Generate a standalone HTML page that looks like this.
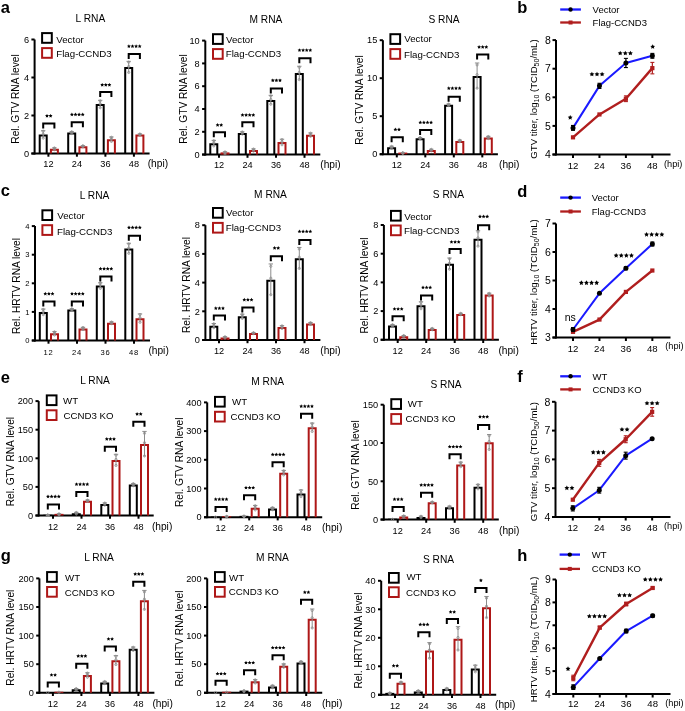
<!DOCTYPE html>
<html><head><meta charset="utf-8"><style>
html,body{margin:0;padding:0;background:#fff;}
svg{display:block;font-family:"Liberation Sans", sans-serif;will-change:transform;}
</style></head><body>
<svg width="685" height="711" viewBox="0 0 685 711">
<rect width="685" height="711" fill="#fff"/>
<text x="0.7" y="12.7" font-size="16.5" text-anchor="start" font-weight="bold">a</text>
<text x="517.3" y="12.9" font-size="16.5" text-anchor="start" font-weight="bold">b</text>
<text x="0.7" y="196.4" font-size="16.5" text-anchor="start" font-weight="bold">c</text>
<text x="517.3" y="196.7" font-size="16.5" text-anchor="start" font-weight="bold">d</text>
<text x="0.7" y="382.9" font-size="16.5" text-anchor="start" font-weight="bold">e</text>
<text x="517.3" y="382.2" font-size="16.5" text-anchor="start" font-weight="bold">f</text>
<text x="0.7" y="561" font-size="16.5" text-anchor="start" font-weight="bold">g</text>
<text x="517.3" y="561.2" font-size="16.5" text-anchor="start" font-weight="bold">h</text>
<line x1="34.6" y1="39.5" x2="34.6" y2="154.5" stroke="#000" stroke-width="2" stroke-linecap="butt"/>
<line x1="31.4" y1="153.5" x2="149.6" y2="153.5" stroke="#000" stroke-width="2" stroke-linecap="butt"/>
<line x1="31.4" y1="153.5" x2="34.6" y2="153.5" stroke="#000" stroke-width="2" stroke-linecap="butt"/>
<text x="29" y="156.77" font-size="9.2" text-anchor="end">0</text>
<line x1="31.4" y1="115.5" x2="34.6" y2="115.5" stroke="#000" stroke-width="2" stroke-linecap="butt"/>
<text x="29" y="118.77" font-size="9.2" text-anchor="end">2</text>
<line x1="31.4" y1="77.5" x2="34.6" y2="77.5" stroke="#000" stroke-width="2" stroke-linecap="butt"/>
<text x="29" y="80.77" font-size="9.2" text-anchor="end">4</text>
<line x1="31.4" y1="39.5" x2="34.6" y2="39.5" stroke="#000" stroke-width="2" stroke-linecap="butt"/>
<text x="29" y="42.77" font-size="9.2" text-anchor="end">6</text>
<line x1="48.4" y1="153.5" x2="48.4" y2="156.7" stroke="#000" stroke-width="2" stroke-linecap="butt"/>
<text x="48.4" y="167" font-size="9.2" text-anchor="middle">12</text>
<path d="M39.7 153.5V135.5H46.7V153.5" fill="none" stroke="#000" stroke-width="2"/>
<line x1="43.2" y1="130.7" x2="43.2" y2="138.3" stroke="#8c8c8c" stroke-width="1" stroke-linecap="butt"/>
<line x1="41" y1="130.7" x2="45.4" y2="130.7" stroke="#8c8c8c" stroke-width="1" stroke-linecap="butt"/>
<circle cx="43.2" cy="131.27" r="1.1" fill="none" stroke="#8c8c8c" stroke-width="0.8"/>
<circle cx="43.2" cy="134.12" r="1.1" fill="none" stroke="#8c8c8c" stroke-width="0.8"/>
<circle cx="43.2" cy="138.11" r="1.1" fill="none" stroke="#8c8c8c" stroke-width="0.8"/>
<path d="M50.9 153.5V149.75H57.9V153.5" fill="none" stroke="#ae1717" stroke-width="2"/>
<line x1="54.4" y1="147.8" x2="54.4" y2="149.7" stroke="#8c8c8c" stroke-width="1" stroke-linecap="butt"/>
<line x1="52.2" y1="147.8" x2="56.6" y2="147.8" stroke="#8c8c8c" stroke-width="1" stroke-linecap="butt"/>
<circle cx="54.4" cy="147.94" r="1.1" fill="none" stroke="#8c8c8c" stroke-width="0.8"/>
<circle cx="54.4" cy="148.66" r="1.1" fill="none" stroke="#8c8c8c" stroke-width="0.8"/>
<circle cx="54.4" cy="149.65" r="1.1" fill="none" stroke="#8c8c8c" stroke-width="0.8"/>
<path d="M43.2 128.5V123.5H54.4V128.5" fill="none" stroke="#000" stroke-width="2"/>
<path d="M47,113.9 L47.59,115.09 L48.9,115.28 L47.95,116.21 L48.18,117.52 L47,116.9 L45.82,117.52 L46.05,116.21 L45.1,115.28 L46.41,115.09Z M50.6,113.9 L51.19,115.09 L52.5,115.28 L51.55,116.21 L51.78,117.52 L50.6,116.9 L49.42,117.52 L49.65,116.21 L48.7,115.28 L50.01,115.09Z" fill="#000"/>
<line x1="76.9" y1="153.5" x2="76.9" y2="156.7" stroke="#000" stroke-width="2" stroke-linecap="butt"/>
<text x="76.9" y="167" font-size="9.2" text-anchor="middle">24</text>
<path d="M68.2 153.5V133.6H75.2V153.5" fill="none" stroke="#000" stroke-width="2"/>
<line x1="71.7" y1="131.65" x2="71.7" y2="133.55" stroke="#8c8c8c" stroke-width="1" stroke-linecap="butt"/>
<line x1="69.5" y1="131.65" x2="73.9" y2="131.65" stroke="#8c8c8c" stroke-width="1" stroke-linecap="butt"/>
<circle cx="71.7" cy="131.79" r="1.1" fill="none" stroke="#8c8c8c" stroke-width="0.8"/>
<circle cx="71.7" cy="132.5" r="1.1" fill="none" stroke="#8c8c8c" stroke-width="0.8"/>
<circle cx="71.7" cy="133.5" r="1.1" fill="none" stroke="#8c8c8c" stroke-width="0.8"/>
<path d="M79.4 153.5V147.28H86.4V153.5" fill="none" stroke="#ae1717" stroke-width="2"/>
<line x1="82.9" y1="145.71" x2="82.9" y2="146.85" stroke="#8c8c8c" stroke-width="1" stroke-linecap="butt"/>
<line x1="80.7" y1="145.71" x2="85.1" y2="145.71" stroke="#8c8c8c" stroke-width="1" stroke-linecap="butt"/>
<circle cx="82.9" cy="145.8" r="1.1" fill="none" stroke="#8c8c8c" stroke-width="0.8"/>
<circle cx="82.9" cy="146.22" r="1.1" fill="none" stroke="#8c8c8c" stroke-width="0.8"/>
<circle cx="82.9" cy="146.82" r="1.1" fill="none" stroke="#8c8c8c" stroke-width="0.8"/>
<path d="M71.7 127.2V122.2H82.9V127.2" fill="none" stroke="#000" stroke-width="2"/>
<path d="M71.9,112.6 L72.49,113.79 L73.8,113.98 L72.85,114.91 L73.08,116.22 L71.9,115.6 L70.72,116.22 L70.95,114.91 L70,113.98 L71.31,113.79Z M75.5,112.6 L76.09,113.79 L77.4,113.98 L76.45,114.91 L76.68,116.22 L75.5,115.6 L74.32,116.22 L74.55,114.91 L73.6,113.98 L74.91,113.79Z M79.1,112.6 L79.69,113.79 L81,113.98 L80.05,114.91 L80.28,116.22 L79.1,115.6 L77.92,116.22 L78.15,114.91 L77.2,113.98 L78.51,113.79Z M82.7,112.6 L83.29,113.79 L84.6,113.98 L83.65,114.91 L83.88,116.22 L82.7,115.6 L81.52,116.22 L81.75,114.91 L80.8,113.98 L82.11,113.79Z" fill="#000"/>
<line x1="105.4" y1="153.5" x2="105.4" y2="156.7" stroke="#000" stroke-width="2" stroke-linecap="butt"/>
<text x="105.4" y="167" font-size="9.2" text-anchor="middle">36</text>
<path d="M96.7 153.5V105.1H103.7V153.5" fill="none" stroke="#000" stroke-width="2"/>
<line x1="100.2" y1="100.3" x2="100.2" y2="107.9" stroke="#8c8c8c" stroke-width="1" stroke-linecap="butt"/>
<line x1="98" y1="100.3" x2="102.4" y2="100.3" stroke="#8c8c8c" stroke-width="1" stroke-linecap="butt"/>
<circle cx="100.2" cy="100.87" r="1.1" fill="none" stroke="#8c8c8c" stroke-width="0.8"/>
<circle cx="100.2" cy="103.72" r="1.1" fill="none" stroke="#8c8c8c" stroke-width="0.8"/>
<circle cx="100.2" cy="107.71" r="1.1" fill="none" stroke="#8c8c8c" stroke-width="0.8"/>
<path d="M107.9 153.5V140.25H114.9V153.5" fill="none" stroke="#ae1717" stroke-width="2"/>
<line x1="111.4" y1="136.97" x2="111.4" y2="141.53" stroke="#8c8c8c" stroke-width="1" stroke-linecap="butt"/>
<line x1="109.2" y1="136.97" x2="113.6" y2="136.97" stroke="#8c8c8c" stroke-width="1" stroke-linecap="butt"/>
<circle cx="111.4" cy="137.31" r="1.1" fill="none" stroke="#8c8c8c" stroke-width="0.8"/>
<circle cx="111.4" cy="139.02" r="1.1" fill="none" stroke="#8c8c8c" stroke-width="0.8"/>
<circle cx="111.4" cy="141.42" r="1.1" fill="none" stroke="#8c8c8c" stroke-width="0.8"/>
<path d="M100.2 97V92H111.4V97" fill="none" stroke="#000" stroke-width="2"/>
<path d="M102.2,82.9 L102.79,84.09 L104.1,84.28 L103.15,85.21 L103.38,86.52 L102.2,85.9 L101.02,86.52 L101.25,85.21 L100.3,84.28 L101.61,84.09Z M105.8,82.9 L106.39,84.09 L107.7,84.28 L106.75,85.21 L106.98,86.52 L105.8,85.9 L104.62,86.52 L104.85,85.21 L103.9,84.28 L105.21,84.09Z M109.4,82.9 L109.99,84.09 L111.3,84.28 L110.35,85.21 L110.58,86.52 L109.4,85.9 L108.22,86.52 L108.45,85.21 L107.5,84.28 L108.81,84.09Z" fill="#000"/>
<line x1="133.9" y1="153.5" x2="133.9" y2="156.7" stroke="#000" stroke-width="2" stroke-linecap="butt"/>
<text x="133.9" y="167" font-size="9.2" text-anchor="middle">48</text>
<path d="M125.2 153.5V68.05H132.2V153.5" fill="none" stroke="#000" stroke-width="2"/>
<line x1="128.7" y1="61.35" x2="128.7" y2="72.75" stroke="#8c8c8c" stroke-width="1" stroke-linecap="butt"/>
<line x1="126.5" y1="61.35" x2="130.9" y2="61.35" stroke="#8c8c8c" stroke-width="1" stroke-linecap="butt"/>
<circle cx="128.7" cy="62.21" r="1.1" fill="none" stroke="#8c8c8c" stroke-width="0.8"/>
<circle cx="128.7" cy="66.48" r="1.1" fill="none" stroke="#8c8c8c" stroke-width="0.8"/>
<circle cx="128.7" cy="72.47" r="1.1" fill="none" stroke="#8c8c8c" stroke-width="0.8"/>
<path d="M136.4 153.5V135.5H143.4V153.5" fill="none" stroke="#ae1717" stroke-width="2"/>
<line x1="139.9" y1="133.93" x2="139.9" y2="135.07" stroke="#8c8c8c" stroke-width="1" stroke-linecap="butt"/>
<line x1="137.7" y1="133.93" x2="142.1" y2="133.93" stroke="#8c8c8c" stroke-width="1" stroke-linecap="butt"/>
<circle cx="139.9" cy="134.02" r="1.1" fill="none" stroke="#8c8c8c" stroke-width="0.8"/>
<circle cx="139.9" cy="134.44" r="1.1" fill="none" stroke="#8c8c8c" stroke-width="0.8"/>
<circle cx="139.9" cy="135.04" r="1.1" fill="none" stroke="#8c8c8c" stroke-width="0.8"/>
<path d="M128.7 58.9V53.9H139.9V58.9" fill="none" stroke="#000" stroke-width="2"/>
<path d="M128.9,44.3 L129.49,45.49 L130.8,45.68 L129.85,46.61 L130.08,47.92 L128.9,47.3 L127.72,47.92 L127.95,46.61 L127,45.68 L128.31,45.49Z M132.5,44.3 L133.09,45.49 L134.4,45.68 L133.45,46.61 L133.68,47.92 L132.5,47.3 L131.32,47.92 L131.55,46.61 L130.6,45.68 L131.91,45.49Z M136.1,44.3 L136.69,45.49 L138,45.68 L137.05,46.61 L137.28,47.92 L136.1,47.3 L134.92,47.92 L135.15,46.61 L134.2,45.68 L135.51,45.49Z M139.7,44.3 L140.29,45.49 L141.6,45.68 L140.65,46.61 L140.88,47.92 L139.7,47.3 L138.52,47.92 L138.75,46.61 L137.8,45.68 L139.11,45.49Z" fill="#000"/>
<text x="147.7" y="167" font-size="10.2" text-anchor="start">(hpi)</text>
<text x="90.4" y="21.5" font-size="10.2" text-anchor="middle">L RNA</text>
<rect x="42.1" y="33.1" width="9.7" height="9.7" fill="none" stroke="#000" stroke-width="2"/>
<text x="56.3" y="42.5" font-size="9.7" text-anchor="start">Vector</text>
<rect x="42.1" y="48.1" width="9.7" height="9.7" fill="none" stroke="#ae1717" stroke-width="2"/>
<text x="56.3" y="57.1" font-size="9.7" text-anchor="start">Flag-CCND3</text>
<text transform="translate(19 99) rotate(-90)" font-size="10.2" text-anchor="middle">Rel. GTV RNA level</text>
<line x1="205.3" y1="40.6" x2="205.3" y2="155.6" stroke="#000" stroke-width="2" stroke-linecap="butt"/>
<line x1="202.1" y1="154.6" x2="320.3" y2="154.6" stroke="#000" stroke-width="2" stroke-linecap="butt"/>
<line x1="202.1" y1="154.6" x2="205.3" y2="154.6" stroke="#000" stroke-width="2" stroke-linecap="butt"/>
<text x="199.7" y="157.87" font-size="9.2" text-anchor="end">0</text>
<line x1="202.1" y1="131.8" x2="205.3" y2="131.8" stroke="#000" stroke-width="2" stroke-linecap="butt"/>
<text x="199.7" y="135.07" font-size="9.2" text-anchor="end">2</text>
<line x1="202.1" y1="109" x2="205.3" y2="109" stroke="#000" stroke-width="2" stroke-linecap="butt"/>
<text x="199.7" y="112.27" font-size="9.2" text-anchor="end">4</text>
<line x1="202.1" y1="86.2" x2="205.3" y2="86.2" stroke="#000" stroke-width="2" stroke-linecap="butt"/>
<text x="199.7" y="89.47" font-size="9.2" text-anchor="end">6</text>
<line x1="202.1" y1="63.4" x2="205.3" y2="63.4" stroke="#000" stroke-width="2" stroke-linecap="butt"/>
<text x="199.7" y="66.67" font-size="9.2" text-anchor="end">8</text>
<line x1="202.1" y1="40.6" x2="205.3" y2="40.6" stroke="#000" stroke-width="2" stroke-linecap="butt"/>
<text x="199.7" y="43.87" font-size="9.2" text-anchor="end">10</text>
<line x1="219" y1="154.6" x2="219" y2="157.8" stroke="#000" stroke-width="2" stroke-linecap="butt"/>
<text x="219" y="168" font-size="9.2" text-anchor="middle">12</text>
<path d="M210.3 154.6V144.2H217.3V154.6" fill="none" stroke="#000" stroke-width="2"/>
<line x1="213.8" y1="140.35" x2="213.8" y2="146.05" stroke="#8c8c8c" stroke-width="1" stroke-linecap="butt"/>
<line x1="211.6" y1="140.35" x2="216" y2="140.35" stroke="#8c8c8c" stroke-width="1" stroke-linecap="butt"/>
<circle cx="213.8" cy="140.78" r="1.1" fill="none" stroke="#8c8c8c" stroke-width="0.8"/>
<circle cx="213.8" cy="142.91" r="1.1" fill="none" stroke="#8c8c8c" stroke-width="0.8"/>
<circle cx="213.8" cy="145.91" r="1.1" fill="none" stroke="#8c8c8c" stroke-width="0.8"/>
<rect x="220.5" y="152.39" width="9" height="2.21" fill="#ae1717"/>
<line x1="225" y1="151.75" x2="225" y2="154.03" stroke="#8c8c8c" stroke-width="1" stroke-linecap="butt"/>
<line x1="222.8" y1="151.75" x2="227.2" y2="151.75" stroke="#8c8c8c" stroke-width="1" stroke-linecap="butt"/>
<circle cx="225" cy="151.92" r="1.1" fill="none" stroke="#8c8c8c" stroke-width="0.8"/>
<circle cx="225" cy="152.78" r="1.1" fill="none" stroke="#8c8c8c" stroke-width="0.8"/>
<circle cx="225" cy="153.97" r="1.1" fill="none" stroke="#8c8c8c" stroke-width="0.8"/>
<path d="M213.8 137.2V132.2H225V137.2" fill="none" stroke="#000" stroke-width="2"/>
<path d="M217.6,123.1 L218.19,124.29 L219.5,124.48 L218.55,125.41 L218.78,126.72 L217.6,126.1 L216.42,126.72 L216.65,125.41 L215.7,124.48 L217.01,124.29Z M221.2,123.1 L221.79,124.29 L223.1,124.48 L222.15,125.41 L222.38,126.72 L221.2,126.1 L220.02,126.72 L220.25,125.41 L219.3,124.48 L220.61,124.29Z" fill="#000"/>
<line x1="247.5" y1="154.6" x2="247.5" y2="157.8" stroke="#000" stroke-width="2" stroke-linecap="butt"/>
<text x="247.5" y="168" font-size="9.2" text-anchor="middle">24</text>
<path d="M238.8 154.6V133.94H245.8V154.6" fill="none" stroke="#000" stroke-width="2"/>
<line x1="242.3" y1="131.8" x2="242.3" y2="134.08" stroke="#8c8c8c" stroke-width="1" stroke-linecap="butt"/>
<line x1="240.1" y1="131.8" x2="244.5" y2="131.8" stroke="#8c8c8c" stroke-width="1" stroke-linecap="butt"/>
<circle cx="242.3" cy="131.97" r="1.1" fill="none" stroke="#8c8c8c" stroke-width="0.8"/>
<circle cx="242.3" cy="132.83" r="1.1" fill="none" stroke="#8c8c8c" stroke-width="0.8"/>
<circle cx="242.3" cy="134.02" r="1.1" fill="none" stroke="#8c8c8c" stroke-width="0.8"/>
<path d="M250 154.6V151.04H257V154.6" fill="none" stroke="#ae1717" stroke-width="2"/>
<line x1="253.5" y1="148.9" x2="253.5" y2="151.18" stroke="#8c8c8c" stroke-width="1" stroke-linecap="butt"/>
<line x1="251.3" y1="148.9" x2="255.7" y2="148.9" stroke="#8c8c8c" stroke-width="1" stroke-linecap="butt"/>
<circle cx="253.5" cy="149.07" r="1.1" fill="none" stroke="#8c8c8c" stroke-width="0.8"/>
<circle cx="253.5" cy="149.93" r="1.1" fill="none" stroke="#8c8c8c" stroke-width="0.8"/>
<circle cx="253.5" cy="151.12" r="1.1" fill="none" stroke="#8c8c8c" stroke-width="0.8"/>
<path d="M242.3 127.2V122.2H253.5V127.2" fill="none" stroke="#000" stroke-width="2"/>
<path d="M242.5,113.1 L243.09,114.29 L244.4,114.48 L243.45,115.41 L243.68,116.72 L242.5,116.1 L241.32,116.72 L241.55,115.41 L240.6,114.48 L241.91,114.29Z M246.1,113.1 L246.69,114.29 L248,114.48 L247.05,115.41 L247.28,116.72 L246.1,116.1 L244.92,116.72 L245.15,115.41 L244.2,114.48 L245.51,114.29Z M249.7,113.1 L250.29,114.29 L251.6,114.48 L250.65,115.41 L250.88,116.72 L249.7,116.1 L248.52,116.72 L248.75,115.41 L247.8,114.48 L249.11,114.29Z M253.3,113.1 L253.89,114.29 L255.2,114.48 L254.25,115.41 L254.48,116.72 L253.3,116.1 L252.12,116.72 L252.35,115.41 L251.4,114.48 L252.71,114.29Z" fill="#000"/>
<line x1="276" y1="154.6" x2="276" y2="157.8" stroke="#000" stroke-width="2" stroke-linecap="butt"/>
<text x="276" y="168" font-size="9.2" text-anchor="middle">36</text>
<path d="M267.3 154.6V100.88H274.3V154.6" fill="none" stroke="#000" stroke-width="2"/>
<line x1="270.8" y1="95.32" x2="270.8" y2="104.44" stroke="#8c8c8c" stroke-width="1" stroke-linecap="butt"/>
<line x1="268.6" y1="95.32" x2="273" y2="95.32" stroke="#8c8c8c" stroke-width="1" stroke-linecap="butt"/>
<circle cx="270.8" cy="96" r="1.1" fill="none" stroke="#8c8c8c" stroke-width="0.8"/>
<circle cx="270.8" cy="99.42" r="1.1" fill="none" stroke="#8c8c8c" stroke-width="0.8"/>
<circle cx="270.8" cy="104.21" r="1.1" fill="none" stroke="#8c8c8c" stroke-width="0.8"/>
<path d="M278.5 154.6V143.06H285.5V154.6" fill="none" stroke="#ae1717" stroke-width="2"/>
<line x1="282" y1="139.21" x2="282" y2="144.91" stroke="#8c8c8c" stroke-width="1" stroke-linecap="butt"/>
<line x1="279.8" y1="139.21" x2="284.2" y2="139.21" stroke="#8c8c8c" stroke-width="1" stroke-linecap="butt"/>
<circle cx="282" cy="139.64" r="1.1" fill="none" stroke="#8c8c8c" stroke-width="0.8"/>
<circle cx="282" cy="141.78" r="1.1" fill="none" stroke="#8c8c8c" stroke-width="0.8"/>
<circle cx="282" cy="144.77" r="1.1" fill="none" stroke="#8c8c8c" stroke-width="0.8"/>
<path d="M270.8 93.5V88.5H282V93.5" fill="none" stroke="#000" stroke-width="2"/>
<path d="M272.8,78.4 L273.39,79.59 L274.7,79.78 L273.75,80.71 L273.98,82.02 L272.8,81.4 L271.62,82.02 L271.85,80.71 L270.9,79.78 L272.21,79.59Z M276.4,78.4 L276.99,79.59 L278.3,79.78 L277.35,80.71 L277.58,82.02 L276.4,81.4 L275.22,82.02 L275.45,80.71 L274.5,79.78 L275.81,79.59Z M280,78.4 L280.59,79.59 L281.9,79.78 L280.95,80.71 L281.18,82.02 L280,81.4 L278.82,82.02 L279.05,80.71 L278.1,79.78 L279.41,79.59Z" fill="#000"/>
<line x1="304.5" y1="154.6" x2="304.5" y2="157.8" stroke="#000" stroke-width="2" stroke-linecap="butt"/>
<text x="304.5" y="168" font-size="9.2" text-anchor="middle">48</text>
<path d="M295.8 154.6V74.09H302.8V154.6" fill="none" stroke="#000" stroke-width="2"/>
<line x1="299.3" y1="66.25" x2="299.3" y2="79.93" stroke="#8c8c8c" stroke-width="1" stroke-linecap="butt"/>
<line x1="297.1" y1="66.25" x2="301.5" y2="66.25" stroke="#8c8c8c" stroke-width="1" stroke-linecap="butt"/>
<circle cx="299.3" cy="67.28" r="1.1" fill="none" stroke="#8c8c8c" stroke-width="0.8"/>
<circle cx="299.3" cy="72.41" r="1.1" fill="none" stroke="#8c8c8c" stroke-width="0.8"/>
<circle cx="299.3" cy="79.59" r="1.1" fill="none" stroke="#8c8c8c" stroke-width="0.8"/>
<path d="M307 154.6V135.65H314V154.6" fill="none" stroke="#ae1717" stroke-width="2"/>
<line x1="310.5" y1="132.94" x2="310.5" y2="136.36" stroke="#8c8c8c" stroke-width="1" stroke-linecap="butt"/>
<line x1="308.3" y1="132.94" x2="312.7" y2="132.94" stroke="#8c8c8c" stroke-width="1" stroke-linecap="butt"/>
<circle cx="310.5" cy="133.2" r="1.1" fill="none" stroke="#8c8c8c" stroke-width="0.8"/>
<circle cx="310.5" cy="134.48" r="1.1" fill="none" stroke="#8c8c8c" stroke-width="0.8"/>
<circle cx="310.5" cy="136.27" r="1.1" fill="none" stroke="#8c8c8c" stroke-width="0.8"/>
<path d="M299.3 63.3V58.3H310.5V63.3" fill="none" stroke="#000" stroke-width="2"/>
<path d="M299.5,48.2 L300.09,49.39 L301.4,49.58 L300.45,50.51 L300.68,51.82 L299.5,51.2 L298.32,51.82 L298.55,50.51 L297.6,49.58 L298.91,49.39Z M303.1,48.2 L303.69,49.39 L305,49.58 L304.05,50.51 L304.28,51.82 L303.1,51.2 L301.92,51.82 L302.15,50.51 L301.2,49.58 L302.51,49.39Z M306.7,48.2 L307.29,49.39 L308.6,49.58 L307.65,50.51 L307.88,51.82 L306.7,51.2 L305.52,51.82 L305.75,50.51 L304.8,49.58 L306.11,49.39Z M310.3,48.2 L310.89,49.39 L312.2,49.58 L311.25,50.51 L311.48,51.82 L310.3,51.2 L309.12,51.82 L309.35,50.51 L308.4,49.58 L309.71,49.39Z" fill="#000"/>
<text x="320.3" y="168" font-size="10.2" text-anchor="start">(hpi)</text>
<text x="265.9" y="23.1" font-size="10.2" text-anchor="middle">M RNA</text>
<rect x="213" y="34.2" width="9.7" height="9.7" fill="none" stroke="#000" stroke-width="2"/>
<text x="226" y="42.5" font-size="9.7" text-anchor="start">Vector</text>
<rect x="213" y="49.1" width="9.7" height="9.7" fill="none" stroke="#ae1717" stroke-width="2"/>
<text x="225.8" y="57.4" font-size="9.7" text-anchor="start">Flag-CCND3</text>
<text transform="translate(187 99) rotate(-90)" font-size="10.2" text-anchor="middle">Rel. GTV RNA level</text>
<line x1="382.9" y1="40.2" x2="382.9" y2="155.2" stroke="#000" stroke-width="2" stroke-linecap="butt"/>
<line x1="379.7" y1="154.2" x2="497.9" y2="154.2" stroke="#000" stroke-width="2" stroke-linecap="butt"/>
<line x1="379.7" y1="154.2" x2="382.9" y2="154.2" stroke="#000" stroke-width="2" stroke-linecap="butt"/>
<text x="377.3" y="157.47" font-size="9.2" text-anchor="end">0</text>
<line x1="379.7" y1="116.2" x2="382.9" y2="116.2" stroke="#000" stroke-width="2" stroke-linecap="butt"/>
<text x="377.3" y="119.47" font-size="9.2" text-anchor="end">5</text>
<line x1="379.7" y1="78.2" x2="382.9" y2="78.2" stroke="#000" stroke-width="2" stroke-linecap="butt"/>
<text x="377.3" y="81.47" font-size="9.2" text-anchor="end">10</text>
<line x1="379.7" y1="40.2" x2="382.9" y2="40.2" stroke="#000" stroke-width="2" stroke-linecap="butt"/>
<text x="377.3" y="43.47" font-size="9.2" text-anchor="end">15</text>
<line x1="396.8" y1="154.2" x2="396.8" y2="157.4" stroke="#000" stroke-width="2" stroke-linecap="butt"/>
<text x="396.8" y="168" font-size="9.2" text-anchor="middle">12</text>
<path d="M388.1 154.2V148.36H395.1V154.2" fill="none" stroke="#000" stroke-width="2"/>
<line x1="391.6" y1="146.22" x2="391.6" y2="148.5" stroke="#8c8c8c" stroke-width="1" stroke-linecap="butt"/>
<line x1="389.4" y1="146.22" x2="393.8" y2="146.22" stroke="#8c8c8c" stroke-width="1" stroke-linecap="butt"/>
<circle cx="391.6" cy="146.39" r="1.1" fill="none" stroke="#8c8c8c" stroke-width="0.8"/>
<circle cx="391.6" cy="147.25" r="1.1" fill="none" stroke="#8c8c8c" stroke-width="0.8"/>
<circle cx="391.6" cy="148.44" r="1.1" fill="none" stroke="#8c8c8c" stroke-width="0.8"/>
<rect x="398.3" y="152.56" width="9" height="1.64" fill="#ae1717"/>
<line x1="402.8" y1="152.68" x2="402.8" y2="153.44" stroke="#8c8c8c" stroke-width="1" stroke-linecap="butt"/>
<line x1="400.6" y1="152.68" x2="405" y2="152.68" stroke="#8c8c8c" stroke-width="1" stroke-linecap="butt"/>
<circle cx="402.8" cy="152.74" r="1.1" fill="none" stroke="#8c8c8c" stroke-width="0.8"/>
<circle cx="402.8" cy="153.02" r="1.1" fill="none" stroke="#8c8c8c" stroke-width="0.8"/>
<circle cx="402.8" cy="153.42" r="1.1" fill="none" stroke="#8c8c8c" stroke-width="0.8"/>
<path d="M391.6 142.2V137.2H402.8V142.2" fill="none" stroke="#000" stroke-width="2"/>
<path d="M395.4,127.6 L395.99,128.79 L397.3,128.98 L396.35,129.91 L396.58,131.22 L395.4,130.6 L394.22,131.22 L394.45,129.91 L393.5,128.98 L394.81,128.79Z M399,127.6 L399.59,128.79 L400.9,128.98 L399.95,129.91 L400.18,131.22 L399,130.6 L397.82,131.22 L398.05,129.91 L397.1,128.98 L398.41,128.79Z" fill="#000"/>
<line x1="425.3" y1="154.2" x2="425.3" y2="157.4" stroke="#000" stroke-width="2" stroke-linecap="butt"/>
<text x="425.3" y="168" font-size="9.2" text-anchor="middle">24</text>
<path d="M416.6 154.2V139.24H423.6V154.2" fill="none" stroke="#000" stroke-width="2"/>
<line x1="420.1" y1="137.48" x2="420.1" y2="139" stroke="#8c8c8c" stroke-width="1" stroke-linecap="butt"/>
<line x1="417.9" y1="137.48" x2="422.3" y2="137.48" stroke="#8c8c8c" stroke-width="1" stroke-linecap="butt"/>
<circle cx="420.1" cy="137.59" r="1.1" fill="none" stroke="#8c8c8c" stroke-width="0.8"/>
<circle cx="420.1" cy="138.16" r="1.1" fill="none" stroke="#8c8c8c" stroke-width="0.8"/>
<circle cx="420.1" cy="138.96" r="1.1" fill="none" stroke="#8c8c8c" stroke-width="0.8"/>
<path d="M427.8 154.2V151.02H434.8V154.2" fill="none" stroke="#ae1717" stroke-width="2"/>
<line x1="431.3" y1="149.26" x2="431.3" y2="150.78" stroke="#8c8c8c" stroke-width="1" stroke-linecap="butt"/>
<line x1="429.1" y1="149.26" x2="433.5" y2="149.26" stroke="#8c8c8c" stroke-width="1" stroke-linecap="butt"/>
<circle cx="431.3" cy="149.37" r="1.1" fill="none" stroke="#8c8c8c" stroke-width="0.8"/>
<circle cx="431.3" cy="149.94" r="1.1" fill="none" stroke="#8c8c8c" stroke-width="0.8"/>
<circle cx="431.3" cy="150.74" r="1.1" fill="none" stroke="#8c8c8c" stroke-width="0.8"/>
<path d="M420.1 135V130H431.3V135" fill="none" stroke="#000" stroke-width="2"/>
<path d="M420.3,120.5 L420.89,121.69 L422.2,121.88 L421.25,122.81 L421.48,124.12 L420.3,123.5 L419.12,124.12 L419.35,122.81 L418.4,121.88 L419.71,121.69Z M423.9,120.5 L424.49,121.69 L425.8,121.88 L424.85,122.81 L425.08,124.12 L423.9,123.5 L422.72,124.12 L422.95,122.81 L422,121.88 L423.31,121.69Z M427.5,120.5 L428.09,121.69 L429.4,121.88 L428.45,122.81 L428.68,124.12 L427.5,123.5 L426.32,124.12 L426.55,122.81 L425.6,121.88 L426.91,121.69Z M431.1,120.5 L431.69,121.69 L433,121.88 L432.05,122.81 L432.28,124.12 L431.1,123.5 L429.92,124.12 L430.15,122.81 L429.2,121.88 L430.51,121.69Z" fill="#000"/>
<line x1="453.8" y1="154.2" x2="453.8" y2="157.4" stroke="#000" stroke-width="2" stroke-linecap="butt"/>
<text x="453.8" y="168" font-size="9.2" text-anchor="middle">36</text>
<path d="M445.1 154.2V105.8H452.1V154.2" fill="none" stroke="#000" stroke-width="2"/>
<line x1="448.6" y1="104.04" x2="448.6" y2="105.56" stroke="#8c8c8c" stroke-width="1" stroke-linecap="butt"/>
<line x1="446.4" y1="104.04" x2="450.8" y2="104.04" stroke="#8c8c8c" stroke-width="1" stroke-linecap="butt"/>
<circle cx="448.6" cy="104.15" r="1.1" fill="none" stroke="#8c8c8c" stroke-width="0.8"/>
<circle cx="448.6" cy="104.72" r="1.1" fill="none" stroke="#8c8c8c" stroke-width="0.8"/>
<circle cx="448.6" cy="105.52" r="1.1" fill="none" stroke="#8c8c8c" stroke-width="0.8"/>
<path d="M456.3 154.2V141.9H463.3V154.2" fill="none" stroke="#ae1717" stroke-width="2"/>
<line x1="459.8" y1="140.14" x2="459.8" y2="141.66" stroke="#8c8c8c" stroke-width="1" stroke-linecap="butt"/>
<line x1="457.6" y1="140.14" x2="462" y2="140.14" stroke="#8c8c8c" stroke-width="1" stroke-linecap="butt"/>
<circle cx="459.8" cy="140.25" r="1.1" fill="none" stroke="#8c8c8c" stroke-width="0.8"/>
<circle cx="459.8" cy="140.82" r="1.1" fill="none" stroke="#8c8c8c" stroke-width="0.8"/>
<circle cx="459.8" cy="141.62" r="1.1" fill="none" stroke="#8c8c8c" stroke-width="0.8"/>
<path d="M448.6 101.7V96.7H459.8V101.7" fill="none" stroke="#000" stroke-width="2"/>
<path d="M448.8,86.3 L449.39,87.49 L450.7,87.68 L449.75,88.61 L449.98,89.92 L448.8,89.3 L447.62,89.92 L447.85,88.61 L446.9,87.68 L448.21,87.49Z M452.4,86.3 L452.99,87.49 L454.3,87.68 L453.35,88.61 L453.58,89.92 L452.4,89.3 L451.22,89.92 L451.45,88.61 L450.5,87.68 L451.81,87.49Z M456,86.3 L456.59,87.49 L457.9,87.68 L456.95,88.61 L457.18,89.92 L456,89.3 L454.82,89.92 L455.05,88.61 L454.1,87.68 L455.41,87.49Z M459.6,86.3 L460.19,87.49 L461.5,87.68 L460.55,88.61 L460.78,89.92 L459.6,89.3 L458.42,89.92 L458.65,88.61 L457.7,87.68 L459.01,87.49Z" fill="#000"/>
<line x1="482.3" y1="154.2" x2="482.3" y2="157.4" stroke="#000" stroke-width="2" stroke-linecap="butt"/>
<text x="482.3" y="168" font-size="9.2" text-anchor="middle">48</text>
<path d="M473.6 154.2V76.92H480.6V154.2" fill="none" stroke="#000" stroke-width="2"/>
<line x1="477.1" y1="63" x2="477.1" y2="88.84" stroke="#8c8c8c" stroke-width="1" stroke-linecap="butt"/>
<line x1="474.9" y1="63" x2="479.3" y2="63" stroke="#8c8c8c" stroke-width="1" stroke-linecap="butt"/>
<circle cx="477.1" cy="64.94" r="1.1" fill="none" stroke="#8c8c8c" stroke-width="0.8"/>
<circle cx="477.1" cy="74.63" r="1.1" fill="none" stroke="#8c8c8c" stroke-width="0.8"/>
<circle cx="477.1" cy="88.19" r="1.1" fill="none" stroke="#8c8c8c" stroke-width="0.8"/>
<path d="M484.8 154.2V138.48H491.8V154.2" fill="none" stroke="#ae1717" stroke-width="2"/>
<line x1="488.3" y1="136.34" x2="488.3" y2="138.62" stroke="#8c8c8c" stroke-width="1" stroke-linecap="butt"/>
<line x1="486.1" y1="136.34" x2="490.5" y2="136.34" stroke="#8c8c8c" stroke-width="1" stroke-linecap="butt"/>
<circle cx="488.3" cy="136.51" r="1.1" fill="none" stroke="#8c8c8c" stroke-width="0.8"/>
<circle cx="488.3" cy="137.37" r="1.1" fill="none" stroke="#8c8c8c" stroke-width="0.8"/>
<circle cx="488.3" cy="138.56" r="1.1" fill="none" stroke="#8c8c8c" stroke-width="0.8"/>
<path d="M477.1 59.4V54.4H488.3V59.4" fill="none" stroke="#000" stroke-width="2"/>
<path d="M479.1,45.1 L479.69,46.29 L481,46.48 L480.05,47.41 L480.28,48.72 L479.1,48.1 L477.92,48.72 L478.15,47.41 L477.2,46.48 L478.51,46.29Z M482.7,45.1 L483.29,46.29 L484.6,46.48 L483.65,47.41 L483.88,48.72 L482.7,48.1 L481.52,48.72 L481.75,47.41 L480.8,46.48 L482.11,46.29Z M486.3,45.1 L486.89,46.29 L488.2,46.48 L487.25,47.41 L487.48,48.72 L486.3,48.1 L485.12,48.72 L485.35,47.41 L484.4,46.48 L485.71,46.29Z" fill="#000"/>
<text x="499" y="168" font-size="10.2" text-anchor="start">(hpi)</text>
<text x="444" y="23.1" font-size="10.2" text-anchor="middle">S RNA</text>
<rect x="390.4" y="34.2" width="9.7" height="9.7" fill="none" stroke="#000" stroke-width="2"/>
<text x="404.3" y="41.6" font-size="9.7" text-anchor="start">Vector</text>
<rect x="390.4" y="49.1" width="9.7" height="9.7" fill="none" stroke="#ae1717" stroke-width="2"/>
<text x="404" y="58" font-size="9.7" text-anchor="start">Flag-CCND3</text>
<text transform="translate(363 100) rotate(-90)" font-size="10.2" text-anchor="middle">Rel. GTV RNA level</text>
<line x1="556" y1="40.1" x2="556" y2="155.5" stroke="#000" stroke-width="2" stroke-linecap="butt"/>
<line x1="552.5" y1="154.5" x2="670.5" y2="154.5" stroke="#000" stroke-width="2" stroke-linecap="butt"/>
<line x1="552.5" y1="154.5" x2="556" y2="154.5" stroke="#000" stroke-width="2" stroke-linecap="butt"/>
<text x="550.8" y="158.23" font-size="10.5" text-anchor="end">4</text>
<line x1="552.5" y1="125.9" x2="556" y2="125.9" stroke="#000" stroke-width="2" stroke-linecap="butt"/>
<text x="550.8" y="129.63" font-size="10.5" text-anchor="end">5</text>
<line x1="552.5" y1="97.3" x2="556" y2="97.3" stroke="#000" stroke-width="2" stroke-linecap="butt"/>
<text x="550.8" y="101.03" font-size="10.5" text-anchor="end">6</text>
<line x1="552.5" y1="68.7" x2="556" y2="68.7" stroke="#000" stroke-width="2" stroke-linecap="butt"/>
<text x="550.8" y="72.43" font-size="10.5" text-anchor="end">7</text>
<line x1="552.5" y1="40.1" x2="556" y2="40.1" stroke="#000" stroke-width="2" stroke-linecap="butt"/>
<text x="550.8" y="43.83" font-size="10.5" text-anchor="end">8</text>
<line x1="573" y1="154.5" x2="573" y2="158" stroke="#000" stroke-width="2" stroke-linecap="butt"/>
<text x="573" y="168.5" font-size="9.6" text-anchor="middle">12</text>
<line x1="599.45" y1="154.5" x2="599.45" y2="158" stroke="#000" stroke-width="2" stroke-linecap="butt"/>
<text x="599.45" y="168.5" font-size="9.6" text-anchor="middle">24</text>
<line x1="625.9" y1="154.5" x2="625.9" y2="158" stroke="#000" stroke-width="2" stroke-linecap="butt"/>
<text x="625.9" y="168.5" font-size="9.6" text-anchor="middle">36</text>
<line x1="652.35" y1="154.5" x2="652.35" y2="158" stroke="#000" stroke-width="2" stroke-linecap="butt"/>
<text x="652.35" y="168.5" font-size="9.6" text-anchor="middle">48</text>
<text x="664" y="166.9" font-size="9.2" text-anchor="start">(hpi)</text>
<polyline points="573,137.34 599.45,114.46 625.9,98.73 652.35,68.13" fill="none" stroke="#b01e1e" stroke-width="2.4" stroke-linejoin="round"/>
<rect x="570.9" y="135.24" width="4.2" height="4.2" fill="#b01e1e"/>
<rect x="597.35" y="112.36" width="4.2" height="4.2" fill="#b01e1e"/>
<line x1="625.9" y1="95.87" x2="625.9" y2="101.59" stroke="#b01e1e" stroke-width="1.2" stroke-linecap="butt"/>
<line x1="623.9" y1="95.87" x2="627.9" y2="95.87" stroke="#b01e1e" stroke-width="1.1" stroke-linecap="butt"/>
<line x1="623.9" y1="101.59" x2="627.9" y2="101.59" stroke="#b01e1e" stroke-width="1.1" stroke-linecap="butt"/>
<rect x="623.8" y="96.63" width="4.2" height="4.2" fill="#b01e1e"/>
<line x1="652.35" y1="62.41" x2="652.35" y2="73.85" stroke="#b01e1e" stroke-width="1.2" stroke-linecap="butt"/>
<line x1="650.35" y1="62.41" x2="654.35" y2="62.41" stroke="#b01e1e" stroke-width="1.1" stroke-linecap="butt"/>
<line x1="650.35" y1="73.85" x2="654.35" y2="73.85" stroke="#b01e1e" stroke-width="1.1" stroke-linecap="butt"/>
<rect x="650.25" y="66.03" width="4.2" height="4.2" fill="#b01e1e"/>
<polyline points="573,127.9 599.45,85.86 625.9,62.98 652.35,55.83" fill="none" stroke="#1a1aff" stroke-width="2.0" stroke-linejoin="round"/>
<line x1="573" y1="125.47" x2="573" y2="130.33" stroke="#000" stroke-width="1.2" stroke-linecap="butt"/>
<line x1="571" y1="125.47" x2="575" y2="125.47" stroke="#000" stroke-width="1.1" stroke-linecap="butt"/>
<line x1="571" y1="130.33" x2="575" y2="130.33" stroke="#000" stroke-width="1.1" stroke-linecap="butt"/>
<circle cx="573" cy="127.9" r="2.5" fill="#000"/>
<line x1="599.45" y1="83.29" x2="599.45" y2="88.43" stroke="#000" stroke-width="1.2" stroke-linecap="butt"/>
<line x1="597.45" y1="83.29" x2="601.45" y2="83.29" stroke="#000" stroke-width="1.1" stroke-linecap="butt"/>
<line x1="597.45" y1="88.43" x2="601.45" y2="88.43" stroke="#000" stroke-width="1.1" stroke-linecap="butt"/>
<circle cx="599.45" cy="85.86" r="2.5" fill="#000"/>
<line x1="625.9" y1="58.4" x2="625.9" y2="67.56" stroke="#000" stroke-width="1.2" stroke-linecap="butt"/>
<line x1="623.9" y1="58.4" x2="627.9" y2="58.4" stroke="#000" stroke-width="1.1" stroke-linecap="butt"/>
<line x1="623.9" y1="67.56" x2="627.9" y2="67.56" stroke="#000" stroke-width="1.1" stroke-linecap="butt"/>
<circle cx="625.9" cy="62.98" r="2.5" fill="#000"/>
<line x1="652.35" y1="53.4" x2="652.35" y2="58.26" stroke="#000" stroke-width="1.2" stroke-linecap="butt"/>
<line x1="650.35" y1="53.4" x2="654.35" y2="53.4" stroke="#000" stroke-width="1.1" stroke-linecap="butt"/>
<line x1="650.35" y1="58.26" x2="654.35" y2="58.26" stroke="#000" stroke-width="1.1" stroke-linecap="butt"/>
<circle cx="652.35" cy="55.83" r="2.5" fill="#000"/>
<path d="M570.2,115.03 L570.95,116.55 L572.63,116.79 L571.41,117.98 L571.7,119.65 L570.2,118.86 L568.7,119.65 L568.99,117.98 L567.77,116.79 L569.45,116.55Z" fill="#000"/>
<path d="M591.9,71.73 L592.65,73.25 L594.33,73.49 L593.11,74.68 L593.4,76.35 L591.9,75.56 L590.4,76.35 L590.69,74.68 L589.47,73.49 L591.15,73.25Z M597,71.73 L597.75,73.25 L599.43,73.49 L598.21,74.68 L598.5,76.35 L597,75.56 L595.5,76.35 L595.79,74.68 L594.57,73.49 L596.25,73.25Z M602.1,71.73 L602.85,73.25 L604.53,73.49 L603.31,74.68 L603.6,76.35 L602.1,75.56 L600.6,76.35 L600.89,74.68 L599.67,73.49 L601.35,73.25Z" fill="#000"/>
<path d="M620.2,50.73 L620.95,52.25 L622.63,52.49 L621.41,53.68 L621.7,55.35 L620.2,54.56 L618.7,55.35 L618.99,53.68 L617.77,52.49 L619.45,52.25Z M625.3,50.73 L626.05,52.25 L627.73,52.49 L626.51,53.68 L626.8,55.35 L625.3,54.56 L623.8,55.35 L624.09,53.68 L622.87,52.49 L624.55,52.25Z M630.4,50.73 L631.15,52.25 L632.83,52.49 L631.61,53.68 L631.9,55.35 L630.4,54.56 L628.9,55.35 L629.19,53.68 L627.97,52.49 L629.65,52.25Z" fill="#000"/>
<path d="M652.7,44.13 L653.45,45.65 L655.13,45.89 L653.91,47.08 L654.2,48.75 L652.7,47.96 L651.2,48.75 L651.49,47.08 L650.27,45.89 L651.95,45.65Z" fill="#000"/>
<line x1="560.2" y1="9.5" x2="580.9" y2="9.5" stroke="#1a1aff" stroke-width="2.3" stroke-linecap="butt"/>
<circle cx="570.55" cy="9.5" r="2.2" fill="#000"/>
<text x="592.6" y="12.9" font-size="9.5" text-anchor="start">Vector</text>
<line x1="560.2" y1="22.5" x2="580.9" y2="22.5" stroke="#b01e1e" stroke-width="2.3" stroke-linecap="butt"/>
<rect x="568.55" y="20.5" width="4" height="4" fill="#b01e1e"/>
<text x="592.6" y="25.9" font-size="9.5" text-anchor="start">Flag-CCND3</text>
<text transform="translate(537 99) rotate(-90)" font-size="9.65" text-anchor="middle">GTV titer, log<tspan font-size="7" dy="2.2">10</tspan><tspan dy="-2.2"> (TCID</tspan><tspan font-size="7" dy="2.2">50</tspan><tspan dy="-2.2">/mL)</tspan></text>
<line x1="35" y1="226.1" x2="35" y2="341.5" stroke="#000" stroke-width="2" stroke-linecap="butt"/>
<line x1="31.8" y1="340.5" x2="150" y2="340.5" stroke="#000" stroke-width="2" stroke-linecap="butt"/>
<line x1="31.8" y1="340.5" x2="35" y2="340.5" stroke="#000" stroke-width="2" stroke-linecap="butt"/>
<text x="29.4" y="343.2" font-size="7.6" text-anchor="end">0</text>
<line x1="31.8" y1="311.9" x2="35" y2="311.9" stroke="#000" stroke-width="2" stroke-linecap="butt"/>
<text x="29.4" y="314.6" font-size="7.6" text-anchor="end">1</text>
<line x1="31.8" y1="283.3" x2="35" y2="283.3" stroke="#000" stroke-width="2" stroke-linecap="butt"/>
<text x="29.4" y="286" font-size="7.6" text-anchor="end">2</text>
<line x1="31.8" y1="254.7" x2="35" y2="254.7" stroke="#000" stroke-width="2" stroke-linecap="butt"/>
<text x="29.4" y="257.4" font-size="7.6" text-anchor="end">3</text>
<line x1="31.8" y1="226.1" x2="35" y2="226.1" stroke="#000" stroke-width="2" stroke-linecap="butt"/>
<text x="29.4" y="228.8" font-size="7.6" text-anchor="end">4</text>
<line x1="48.5" y1="340.5" x2="48.5" y2="343.7" stroke="#000" stroke-width="2" stroke-linecap="butt"/>
<text x="48.5" y="354.6" font-size="7.6" text-anchor="middle" letter-spacing="0.8">12</text>
<path d="M39.8 340.5V312.9H46.8V340.5" fill="none" stroke="#000" stroke-width="2"/>
<line x1="43.3" y1="309.04" x2="43.3" y2="314.76" stroke="#8c8c8c" stroke-width="1" stroke-linecap="butt"/>
<line x1="41.1" y1="309.04" x2="45.5" y2="309.04" stroke="#8c8c8c" stroke-width="1" stroke-linecap="butt"/>
<circle cx="43.3" cy="309.47" r="1.1" fill="none" stroke="#8c8c8c" stroke-width="0.8"/>
<circle cx="43.3" cy="311.61" r="1.1" fill="none" stroke="#8c8c8c" stroke-width="0.8"/>
<circle cx="43.3" cy="314.62" r="1.1" fill="none" stroke="#8c8c8c" stroke-width="0.8"/>
<path d="M51 340.5V334.35H58V340.5" fill="none" stroke="#ae1717" stroke-width="2"/>
<line x1="54.5" y1="331.63" x2="54.5" y2="335.07" stroke="#8c8c8c" stroke-width="1" stroke-linecap="butt"/>
<line x1="52.3" y1="331.63" x2="56.7" y2="331.63" stroke="#8c8c8c" stroke-width="1" stroke-linecap="butt"/>
<circle cx="54.5" cy="331.89" r="1.1" fill="none" stroke="#8c8c8c" stroke-width="0.8"/>
<circle cx="54.5" cy="333.18" r="1.1" fill="none" stroke="#8c8c8c" stroke-width="0.8"/>
<circle cx="54.5" cy="334.98" r="1.1" fill="none" stroke="#8c8c8c" stroke-width="0.8"/>
<path d="M43.3 306.4V301.4H54.5V306.4" fill="none" stroke="#000" stroke-width="2"/>
<path d="M45.3,291.8 L45.89,292.99 L47.2,293.18 L46.25,294.11 L46.48,295.42 L45.3,294.8 L44.12,295.42 L44.35,294.11 L43.4,293.18 L44.71,292.99Z M48.9,291.8 L49.49,292.99 L50.8,293.18 L49.85,294.11 L50.08,295.42 L48.9,294.8 L47.72,295.42 L47.95,294.11 L47,293.18 L48.31,292.99Z M52.5,291.8 L53.09,292.99 L54.4,293.18 L53.45,294.11 L53.68,295.42 L52.5,294.8 L51.32,295.42 L51.55,294.11 L50.6,293.18 L51.91,292.99Z" fill="#000"/>
<line x1="77" y1="340.5" x2="77" y2="343.7" stroke="#000" stroke-width="2" stroke-linecap="butt"/>
<text x="77" y="354.6" font-size="7.6" text-anchor="middle" letter-spacing="0.8">24</text>
<path d="M68.3 340.5V310.61H75.3V340.5" fill="none" stroke="#000" stroke-width="2"/>
<line x1="71.8" y1="308.75" x2="71.8" y2="310.47" stroke="#8c8c8c" stroke-width="1" stroke-linecap="butt"/>
<line x1="69.6" y1="308.75" x2="74" y2="308.75" stroke="#8c8c8c" stroke-width="1" stroke-linecap="butt"/>
<circle cx="71.8" cy="308.88" r="1.1" fill="none" stroke="#8c8c8c" stroke-width="0.8"/>
<circle cx="71.8" cy="309.53" r="1.1" fill="none" stroke="#8c8c8c" stroke-width="0.8"/>
<circle cx="71.8" cy="310.43" r="1.1" fill="none" stroke="#8c8c8c" stroke-width="0.8"/>
<path d="M79.5 340.5V329.49H86.5V340.5" fill="none" stroke="#ae1717" stroke-width="2"/>
<line x1="83" y1="327.34" x2="83" y2="329.63" stroke="#8c8c8c" stroke-width="1" stroke-linecap="butt"/>
<line x1="80.8" y1="327.34" x2="85.2" y2="327.34" stroke="#8c8c8c" stroke-width="1" stroke-linecap="butt"/>
<circle cx="83" cy="327.52" r="1.1" fill="none" stroke="#8c8c8c" stroke-width="0.8"/>
<circle cx="83" cy="328.37" r="1.1" fill="none" stroke="#8c8c8c" stroke-width="0.8"/>
<circle cx="83" cy="329.57" r="1.1" fill="none" stroke="#8c8c8c" stroke-width="0.8"/>
<path d="M71.8 306.4V301.4H83V306.4" fill="none" stroke="#000" stroke-width="2"/>
<path d="M72,291.8 L72.59,292.99 L73.9,293.18 L72.95,294.11 L73.18,295.42 L72,294.8 L70.82,295.42 L71.05,294.11 L70.1,293.18 L71.41,292.99Z M75.6,291.8 L76.19,292.99 L77.5,293.18 L76.55,294.11 L76.78,295.42 L75.6,294.8 L74.42,295.42 L74.65,294.11 L73.7,293.18 L75.01,292.99Z M79.2,291.8 L79.79,292.99 L81.1,293.18 L80.15,294.11 L80.38,295.42 L79.2,294.8 L78.02,295.42 L78.25,294.11 L77.3,293.18 L78.61,292.99Z M82.8,291.8 L83.39,292.99 L84.7,293.18 L83.75,294.11 L83.98,295.42 L82.8,294.8 L81.62,295.42 L81.85,294.11 L80.9,293.18 L82.21,292.99Z" fill="#000"/>
<line x1="105.5" y1="340.5" x2="105.5" y2="343.7" stroke="#000" stroke-width="2" stroke-linecap="butt"/>
<text x="105.5" y="354.6" font-size="7.6" text-anchor="middle" letter-spacing="0.8">36</text>
<path d="M96.8 340.5V286.59H103.8V340.5" fill="none" stroke="#000" stroke-width="2"/>
<line x1="100.3" y1="282.73" x2="100.3" y2="288.45" stroke="#8c8c8c" stroke-width="1" stroke-linecap="butt"/>
<line x1="98.1" y1="282.73" x2="102.5" y2="282.73" stroke="#8c8c8c" stroke-width="1" stroke-linecap="butt"/>
<circle cx="100.3" cy="283.16" r="1.1" fill="none" stroke="#8c8c8c" stroke-width="0.8"/>
<circle cx="100.3" cy="285.3" r="1.1" fill="none" stroke="#8c8c8c" stroke-width="0.8"/>
<circle cx="100.3" cy="288.31" r="1.1" fill="none" stroke="#8c8c8c" stroke-width="0.8"/>
<path d="M108 340.5V323.77H115V340.5" fill="none" stroke="#ae1717" stroke-width="2"/>
<line x1="111.5" y1="321.91" x2="111.5" y2="323.63" stroke="#8c8c8c" stroke-width="1" stroke-linecap="butt"/>
<line x1="109.3" y1="321.91" x2="113.7" y2="321.91" stroke="#8c8c8c" stroke-width="1" stroke-linecap="butt"/>
<circle cx="111.5" cy="322.04" r="1.1" fill="none" stroke="#8c8c8c" stroke-width="0.8"/>
<circle cx="111.5" cy="322.68" r="1.1" fill="none" stroke="#8c8c8c" stroke-width="0.8"/>
<circle cx="111.5" cy="323.58" r="1.1" fill="none" stroke="#8c8c8c" stroke-width="0.8"/>
<path d="M100.3 281.4V276.4H111.5V281.4" fill="none" stroke="#000" stroke-width="2"/>
<path d="M100.5,266.8 L101.09,267.99 L102.4,268.18 L101.45,269.11 L101.68,270.42 L100.5,269.8 L99.32,270.42 L99.55,269.11 L98.6,268.18 L99.91,267.99Z M104.1,266.8 L104.69,267.99 L106,268.18 L105.05,269.11 L105.28,270.42 L104.1,269.8 L102.92,270.42 L103.15,269.11 L102.2,268.18 L103.51,267.99Z M107.7,266.8 L108.29,267.99 L109.6,268.18 L108.65,269.11 L108.88,270.42 L107.7,269.8 L106.52,270.42 L106.75,269.11 L105.8,268.18 L107.11,267.99Z M111.3,266.8 L111.89,267.99 L113.2,268.18 L112.25,269.11 L112.48,270.42 L111.3,269.8 L110.12,270.42 L110.35,269.11 L109.4,268.18 L110.71,267.99Z" fill="#000"/>
<line x1="134" y1="340.5" x2="134" y2="343.7" stroke="#000" stroke-width="2" stroke-linecap="butt"/>
<text x="134" y="354.6" font-size="7.6" text-anchor="middle" letter-spacing="0.8">48</text>
<path d="M125.3 340.5V249.41H132.3V340.5" fill="none" stroke="#000" stroke-width="2"/>
<line x1="128.8" y1="243.26" x2="128.8" y2="253.56" stroke="#8c8c8c" stroke-width="1" stroke-linecap="butt"/>
<line x1="126.6" y1="243.26" x2="131" y2="243.26" stroke="#8c8c8c" stroke-width="1" stroke-linecap="butt"/>
<circle cx="128.8" cy="244.03" r="1.1" fill="none" stroke="#8c8c8c" stroke-width="0.8"/>
<circle cx="128.8" cy="247.89" r="1.1" fill="none" stroke="#8c8c8c" stroke-width="0.8"/>
<circle cx="128.8" cy="253.3" r="1.1" fill="none" stroke="#8c8c8c" stroke-width="0.8"/>
<path d="M136.5 340.5V319.19H143.5V340.5" fill="none" stroke="#ae1717" stroke-width="2"/>
<line x1="140" y1="313.9" x2="140" y2="322.48" stroke="#8c8c8c" stroke-width="1" stroke-linecap="butt"/>
<line x1="137.8" y1="313.9" x2="142.2" y2="313.9" stroke="#8c8c8c" stroke-width="1" stroke-linecap="butt"/>
<circle cx="140" cy="314.55" r="1.1" fill="none" stroke="#8c8c8c" stroke-width="0.8"/>
<circle cx="140" cy="317.76" r="1.1" fill="none" stroke="#8c8c8c" stroke-width="0.8"/>
<circle cx="140" cy="322.27" r="1.1" fill="none" stroke="#8c8c8c" stroke-width="0.8"/>
<path d="M128.8 240.7V235.7H140V240.7" fill="none" stroke="#000" stroke-width="2"/>
<path d="M129,225.6 L129.59,226.79 L130.9,226.98 L129.95,227.91 L130.18,229.22 L129,228.6 L127.82,229.22 L128.05,227.91 L127.1,226.98 L128.41,226.79Z M132.6,225.6 L133.19,226.79 L134.5,226.98 L133.55,227.91 L133.78,229.22 L132.6,228.6 L131.42,229.22 L131.65,227.91 L130.7,226.98 L132.01,226.79Z M136.2,225.6 L136.79,226.79 L138.1,226.98 L137.15,227.91 L137.38,229.22 L136.2,228.6 L135.02,229.22 L135.25,227.91 L134.3,226.98 L135.61,226.79Z M139.8,225.6 L140.39,226.79 L141.7,226.98 L140.75,227.91 L140.98,229.22 L139.8,228.6 L138.62,229.22 L138.85,227.91 L137.9,226.98 L139.21,226.79Z" fill="#000"/>
<text x="148.4" y="354" font-size="10.2" text-anchor="start">(hpi)</text>
<text x="94.5" y="199" font-size="10.2" text-anchor="middle">L RNA</text>
<rect x="42.4" y="210.3" width="9.7" height="9.7" fill="none" stroke="#000" stroke-width="2"/>
<text x="57.3" y="219" font-size="9.7" text-anchor="start">Vector</text>
<rect x="42.4" y="225.2" width="9.7" height="9.7" fill="none" stroke="#ae1717" stroke-width="2"/>
<text x="57" y="234.5" font-size="9.7" text-anchor="start">Flag-CCND3</text>
<text transform="translate(20 286) rotate(-90)" font-size="10.2" text-anchor="middle">Rel. HRTV RNA level</text>
<line x1="205.4" y1="225.2" x2="205.4" y2="341" stroke="#000" stroke-width="2" stroke-linecap="butt"/>
<line x1="202.2" y1="340" x2="320.4" y2="340" stroke="#000" stroke-width="2" stroke-linecap="butt"/>
<line x1="202.2" y1="340" x2="205.4" y2="340" stroke="#000" stroke-width="2" stroke-linecap="butt"/>
<text x="199.8" y="343.27" font-size="9.2" text-anchor="end">0</text>
<line x1="202.2" y1="311.3" x2="205.4" y2="311.3" stroke="#000" stroke-width="2" stroke-linecap="butt"/>
<text x="199.8" y="314.57" font-size="9.2" text-anchor="end">2</text>
<line x1="202.2" y1="282.6" x2="205.4" y2="282.6" stroke="#000" stroke-width="2" stroke-linecap="butt"/>
<text x="199.8" y="285.87" font-size="9.2" text-anchor="end">4</text>
<line x1="202.2" y1="253.9" x2="205.4" y2="253.9" stroke="#000" stroke-width="2" stroke-linecap="butt"/>
<text x="199.8" y="257.17" font-size="9.2" text-anchor="end">6</text>
<line x1="202.2" y1="225.2" x2="205.4" y2="225.2" stroke="#000" stroke-width="2" stroke-linecap="butt"/>
<text x="199.8" y="228.47" font-size="9.2" text-anchor="end">8</text>
<line x1="219" y1="340" x2="219" y2="343.2" stroke="#000" stroke-width="2" stroke-linecap="butt"/>
<text x="219" y="354" font-size="9.2" text-anchor="middle">12</text>
<path d="M210.3 340V326.65H217.3V340" fill="none" stroke="#000" stroke-width="2"/>
<line x1="213.8" y1="323.5" x2="213.8" y2="327.8" stroke="#8c8c8c" stroke-width="1" stroke-linecap="butt"/>
<line x1="211.6" y1="323.5" x2="216" y2="323.5" stroke="#8c8c8c" stroke-width="1" stroke-linecap="butt"/>
<circle cx="213.8" cy="323.82" r="1.1" fill="none" stroke="#8c8c8c" stroke-width="0.8"/>
<circle cx="213.8" cy="325.43" r="1.1" fill="none" stroke="#8c8c8c" stroke-width="0.8"/>
<circle cx="213.8" cy="327.69" r="1.1" fill="none" stroke="#8c8c8c" stroke-width="0.8"/>
<path d="M221.5 340V338.42H228.5V340" fill="none" stroke="#ae1717" stroke-width="2"/>
<line x1="225" y1="336.7" x2="225" y2="338.13" stroke="#8c8c8c" stroke-width="1" stroke-linecap="butt"/>
<line x1="222.8" y1="336.7" x2="227.2" y2="336.7" stroke="#8c8c8c" stroke-width="1" stroke-linecap="butt"/>
<circle cx="225" cy="336.81" r="1.1" fill="none" stroke="#8c8c8c" stroke-width="0.8"/>
<circle cx="225" cy="337.35" r="1.1" fill="none" stroke="#8c8c8c" stroke-width="0.8"/>
<circle cx="225" cy="338.1" r="1.1" fill="none" stroke="#8c8c8c" stroke-width="0.8"/>
<path d="M213.8 320.5V315.5H225V320.5" fill="none" stroke="#000" stroke-width="2"/>
<path d="M215.8,306.3 L216.39,307.49 L217.7,307.68 L216.75,308.61 L216.98,309.92 L215.8,309.3 L214.62,309.92 L214.85,308.61 L213.9,307.68 L215.21,307.49Z M219.4,306.3 L219.99,307.49 L221.3,307.68 L220.35,308.61 L220.58,309.92 L219.4,309.3 L218.22,309.92 L218.45,308.61 L217.5,307.68 L218.81,307.49Z M223,306.3 L223.59,307.49 L224.9,307.68 L223.95,308.61 L224.18,309.92 L223,309.3 L221.82,309.92 L222.05,308.61 L221.1,307.68 L222.41,307.49Z" fill="#000"/>
<line x1="247.5" y1="340" x2="247.5" y2="343.2" stroke="#000" stroke-width="2" stroke-linecap="butt"/>
<text x="247.5" y="354" font-size="9.2" text-anchor="middle">24</text>
<path d="M238.8 340V317.32H245.8V340" fill="none" stroke="#000" stroke-width="2"/>
<line x1="242.3" y1="314.17" x2="242.3" y2="318.48" stroke="#8c8c8c" stroke-width="1" stroke-linecap="butt"/>
<line x1="240.1" y1="314.17" x2="244.5" y2="314.17" stroke="#8c8c8c" stroke-width="1" stroke-linecap="butt"/>
<circle cx="242.3" cy="314.49" r="1.1" fill="none" stroke="#8c8c8c" stroke-width="0.8"/>
<circle cx="242.3" cy="316.11" r="1.1" fill="none" stroke="#8c8c8c" stroke-width="0.8"/>
<circle cx="242.3" cy="318.37" r="1.1" fill="none" stroke="#8c8c8c" stroke-width="0.8"/>
<path d="M250 340V334.11H257V340" fill="none" stroke="#ae1717" stroke-width="2"/>
<line x1="253.5" y1="332.68" x2="253.5" y2="333.54" stroke="#8c8c8c" stroke-width="1" stroke-linecap="butt"/>
<line x1="251.3" y1="332.68" x2="255.7" y2="332.68" stroke="#8c8c8c" stroke-width="1" stroke-linecap="butt"/>
<circle cx="253.5" cy="332.75" r="1.1" fill="none" stroke="#8c8c8c" stroke-width="0.8"/>
<circle cx="253.5" cy="333.07" r="1.1" fill="none" stroke="#8c8c8c" stroke-width="0.8"/>
<circle cx="253.5" cy="333.52" r="1.1" fill="none" stroke="#8c8c8c" stroke-width="0.8"/>
<path d="M242.3 312.4V307.4H253.5V312.4" fill="none" stroke="#000" stroke-width="2"/>
<path d="M244.3,297.8 L244.89,298.99 L246.2,299.18 L245.25,300.11 L245.48,301.42 L244.3,300.8 L243.12,301.42 L243.35,300.11 L242.4,299.18 L243.71,298.99Z M247.9,297.8 L248.49,298.99 L249.8,299.18 L248.85,300.11 L249.08,301.42 L247.9,300.8 L246.72,301.42 L246.95,300.11 L246,299.18 L247.31,298.99Z M251.5,297.8 L252.09,298.99 L253.4,299.18 L252.45,300.11 L252.68,301.42 L251.5,300.8 L250.32,301.42 L250.55,300.11 L249.6,299.18 L250.91,298.99Z" fill="#000"/>
<line x1="276" y1="340" x2="276" y2="343.2" stroke="#000" stroke-width="2" stroke-linecap="butt"/>
<text x="276" y="354" font-size="9.2" text-anchor="middle">36</text>
<path d="M267.3 340V280.73H274.3V340" fill="none" stroke="#000" stroke-width="2"/>
<line x1="270.8" y1="263.94" x2="270.8" y2="295.51" stroke="#8c8c8c" stroke-width="1" stroke-linecap="butt"/>
<line x1="268.6" y1="263.94" x2="273" y2="263.94" stroke="#8c8c8c" stroke-width="1" stroke-linecap="butt"/>
<circle cx="270.8" cy="266.31" r="1.1" fill="none" stroke="#8c8c8c" stroke-width="0.8"/>
<circle cx="270.8" cy="278.15" r="1.1" fill="none" stroke="#8c8c8c" stroke-width="0.8"/>
<circle cx="270.8" cy="294.73" r="1.1" fill="none" stroke="#8c8c8c" stroke-width="0.8"/>
<path d="M278.5 340V328.08H285.5V340" fill="none" stroke="#ae1717" stroke-width="2"/>
<line x1="282" y1="325.65" x2="282" y2="328.52" stroke="#8c8c8c" stroke-width="1" stroke-linecap="butt"/>
<line x1="279.8" y1="325.65" x2="284.2" y2="325.65" stroke="#8c8c8c" stroke-width="1" stroke-linecap="butt"/>
<circle cx="282" cy="325.87" r="1.1" fill="none" stroke="#8c8c8c" stroke-width="0.8"/>
<circle cx="282" cy="326.94" r="1.1" fill="none" stroke="#8c8c8c" stroke-width="0.8"/>
<circle cx="282" cy="328.45" r="1.1" fill="none" stroke="#8c8c8c" stroke-width="0.8"/>
<path d="M270.8 261.2V256.2H282V261.2" fill="none" stroke="#000" stroke-width="2"/>
<path d="M274.6,246.1 L275.19,247.29 L276.5,247.48 L275.55,248.41 L275.78,249.72 L274.6,249.1 L273.42,249.72 L273.65,248.41 L272.7,247.48 L274.01,247.29Z M278.2,246.1 L278.79,247.29 L280.1,247.48 L279.15,248.41 L279.38,249.72 L278.2,249.1 L277.02,249.72 L277.25,248.41 L276.3,247.48 L277.61,247.29Z" fill="#000"/>
<line x1="304.5" y1="340" x2="304.5" y2="343.2" stroke="#000" stroke-width="2" stroke-linecap="butt"/>
<text x="304.5" y="354" font-size="9.2" text-anchor="middle">48</text>
<path d="M295.8 340V259.2H302.8V340" fill="none" stroke="#000" stroke-width="2"/>
<line x1="299.3" y1="247.44" x2="299.3" y2="268.97" stroke="#8c8c8c" stroke-width="1" stroke-linecap="butt"/>
<line x1="297.1" y1="247.44" x2="301.5" y2="247.44" stroke="#8c8c8c" stroke-width="1" stroke-linecap="butt"/>
<circle cx="299.3" cy="249.06" r="1.1" fill="none" stroke="#8c8c8c" stroke-width="0.8"/>
<circle cx="299.3" cy="257.13" r="1.1" fill="none" stroke="#8c8c8c" stroke-width="0.8"/>
<circle cx="299.3" cy="268.43" r="1.1" fill="none" stroke="#8c8c8c" stroke-width="0.8"/>
<path d="M307 340V324.5H314V340" fill="none" stroke="#ae1717" stroke-width="2"/>
<line x1="310.5" y1="322.49" x2="310.5" y2="324.5" stroke="#8c8c8c" stroke-width="1" stroke-linecap="butt"/>
<line x1="308.3" y1="322.49" x2="312.7" y2="322.49" stroke="#8c8c8c" stroke-width="1" stroke-linecap="butt"/>
<circle cx="310.5" cy="322.64" r="1.1" fill="none" stroke="#8c8c8c" stroke-width="0.8"/>
<circle cx="310.5" cy="323.4" r="1.1" fill="none" stroke="#8c8c8c" stroke-width="0.8"/>
<circle cx="310.5" cy="324.45" r="1.1" fill="none" stroke="#8c8c8c" stroke-width="0.8"/>
<path d="M299.3 244.9V239.9H310.5V244.9" fill="none" stroke="#000" stroke-width="2"/>
<path d="M299.5,229.5 L300.09,230.69 L301.4,230.88 L300.45,231.81 L300.68,233.12 L299.5,232.5 L298.32,233.12 L298.55,231.81 L297.6,230.88 L298.91,230.69Z M303.1,229.5 L303.69,230.69 L305,230.88 L304.05,231.81 L304.28,233.12 L303.1,232.5 L301.92,233.12 L302.15,231.81 L301.2,230.88 L302.51,230.69Z M306.7,229.5 L307.29,230.69 L308.6,230.88 L307.65,231.81 L307.88,233.12 L306.7,232.5 L305.52,233.12 L305.75,231.81 L304.8,230.88 L306.11,230.69Z M310.3,229.5 L310.89,230.69 L312.2,230.88 L311.25,231.81 L311.48,233.12 L310.3,232.5 L309.12,233.12 L309.35,231.81 L308.4,230.88 L309.71,230.69Z" fill="#000"/>
<text x="320.3" y="354" font-size="10.2" text-anchor="start">(hpi)</text>
<text x="270.5" y="198" font-size="10.2" text-anchor="middle">M RNA</text>
<rect x="213" y="208" width="9.7" height="9.7" fill="none" stroke="#000" stroke-width="2"/>
<text x="226" y="215.5" font-size="9.7" text-anchor="start">Vector</text>
<rect x="213" y="222.9" width="9.7" height="9.7" fill="none" stroke="#ae1717" stroke-width="2"/>
<text x="225.8" y="231" font-size="9.7" text-anchor="start">Flag-CCND3</text>
<text transform="translate(190 285) rotate(-90)" font-size="10.2" text-anchor="middle">Rel. HRTV RNA level</text>
<line x1="383.9" y1="225" x2="383.9" y2="340.8" stroke="#000" stroke-width="2" stroke-linecap="butt"/>
<line x1="380.7" y1="339.8" x2="498.9" y2="339.8" stroke="#000" stroke-width="2" stroke-linecap="butt"/>
<line x1="380.7" y1="339.8" x2="383.9" y2="339.8" stroke="#000" stroke-width="2" stroke-linecap="butt"/>
<text x="378.3" y="343.07" font-size="9.2" text-anchor="end">0</text>
<line x1="380.7" y1="311.1" x2="383.9" y2="311.1" stroke="#000" stroke-width="2" stroke-linecap="butt"/>
<text x="378.3" y="314.37" font-size="9.2" text-anchor="end">2</text>
<line x1="380.7" y1="282.4" x2="383.9" y2="282.4" stroke="#000" stroke-width="2" stroke-linecap="butt"/>
<text x="378.3" y="285.67" font-size="9.2" text-anchor="end">4</text>
<line x1="380.7" y1="253.7" x2="383.9" y2="253.7" stroke="#000" stroke-width="2" stroke-linecap="butt"/>
<text x="378.3" y="256.97" font-size="9.2" text-anchor="end">6</text>
<line x1="380.7" y1="225" x2="383.9" y2="225" stroke="#000" stroke-width="2" stroke-linecap="butt"/>
<text x="378.3" y="228.27" font-size="9.2" text-anchor="end">8</text>
<line x1="397.7" y1="339.8" x2="397.7" y2="343" stroke="#000" stroke-width="2" stroke-linecap="butt"/>
<text x="397.7" y="354" font-size="9.2" text-anchor="middle">12</text>
<path d="M389 339.8V326.45H396V339.8" fill="none" stroke="#000" stroke-width="2"/>
<line x1="392.5" y1="324.59" x2="392.5" y2="326.31" stroke="#8c8c8c" stroke-width="1" stroke-linecap="butt"/>
<line x1="390.3" y1="324.59" x2="394.7" y2="324.59" stroke="#8c8c8c" stroke-width="1" stroke-linecap="butt"/>
<circle cx="392.5" cy="324.72" r="1.1" fill="none" stroke="#8c8c8c" stroke-width="0.8"/>
<circle cx="392.5" cy="325.36" r="1.1" fill="none" stroke="#8c8c8c" stroke-width="0.8"/>
<circle cx="392.5" cy="326.27" r="1.1" fill="none" stroke="#8c8c8c" stroke-width="0.8"/>
<path d="M400.2 339.8V337.21H407.2V339.8" fill="none" stroke="#ae1717" stroke-width="2"/>
<line x1="403.7" y1="335.5" x2="403.7" y2="336.93" stroke="#8c8c8c" stroke-width="1" stroke-linecap="butt"/>
<line x1="401.5" y1="335.5" x2="405.9" y2="335.5" stroke="#8c8c8c" stroke-width="1" stroke-linecap="butt"/>
<circle cx="403.7" cy="335.6" r="1.1" fill="none" stroke="#8c8c8c" stroke-width="0.8"/>
<circle cx="403.7" cy="336.14" r="1.1" fill="none" stroke="#8c8c8c" stroke-width="0.8"/>
<circle cx="403.7" cy="336.89" r="1.1" fill="none" stroke="#8c8c8c" stroke-width="0.8"/>
<path d="M392.5 321.3V316.3H403.7V321.3" fill="none" stroke="#000" stroke-width="2"/>
<path d="M394.5,307 L395.09,308.19 L396.4,308.38 L395.45,309.31 L395.68,310.62 L394.5,310 L393.32,310.62 L393.55,309.31 L392.6,308.38 L393.91,308.19Z M398.1,307 L398.69,308.19 L400,308.38 L399.05,309.31 L399.28,310.62 L398.1,310 L396.92,310.62 L397.15,309.31 L396.2,308.38 L397.51,308.19Z M401.7,307 L402.29,308.19 L403.6,308.38 L402.65,309.31 L402.88,310.62 L401.7,310 L400.52,310.62 L400.75,309.31 L399.8,308.38 L401.11,308.19Z" fill="#000"/>
<line x1="426.2" y1="339.8" x2="426.2" y2="343" stroke="#000" stroke-width="2" stroke-linecap="butt"/>
<text x="426.2" y="354" font-size="9.2" text-anchor="middle">24</text>
<path d="M417.5 339.8V306.36H424.5V339.8" fill="none" stroke="#000" stroke-width="2"/>
<line x1="421" y1="301.77" x2="421" y2="308.95" stroke="#8c8c8c" stroke-width="1" stroke-linecap="butt"/>
<line x1="418.8" y1="301.77" x2="423.2" y2="301.77" stroke="#8c8c8c" stroke-width="1" stroke-linecap="butt"/>
<circle cx="421" cy="302.31" r="1.1" fill="none" stroke="#8c8c8c" stroke-width="0.8"/>
<circle cx="421" cy="305" r="1.1" fill="none" stroke="#8c8c8c" stroke-width="0.8"/>
<circle cx="421" cy="308.77" r="1.1" fill="none" stroke="#8c8c8c" stroke-width="0.8"/>
<path d="M428.7 339.8V330.04H435.7V339.8" fill="none" stroke="#ae1717" stroke-width="2"/>
<line x1="432.2" y1="328.32" x2="432.2" y2="329.75" stroke="#8c8c8c" stroke-width="1" stroke-linecap="butt"/>
<line x1="430" y1="328.32" x2="434.4" y2="328.32" stroke="#8c8c8c" stroke-width="1" stroke-linecap="butt"/>
<circle cx="432.2" cy="328.43" r="1.1" fill="none" stroke="#8c8c8c" stroke-width="0.8"/>
<circle cx="432.2" cy="328.97" r="1.1" fill="none" stroke="#8c8c8c" stroke-width="0.8"/>
<circle cx="432.2" cy="329.72" r="1.1" fill="none" stroke="#8c8c8c" stroke-width="0.8"/>
<path d="M421 300.6V295.6H432.2V300.6" fill="none" stroke="#000" stroke-width="2"/>
<path d="M423,285.5 L423.59,286.69 L424.9,286.88 L423.95,287.81 L424.18,289.12 L423,288.5 L421.82,289.12 L422.05,287.81 L421.1,286.88 L422.41,286.69Z M426.6,285.5 L427.19,286.69 L428.5,286.88 L427.55,287.81 L427.78,289.12 L426.6,288.5 L425.42,289.12 L425.65,287.81 L424.7,286.88 L426.01,286.69Z M430.2,285.5 L430.79,286.69 L432.1,286.88 L431.15,287.81 L431.38,289.12 L430.2,288.5 L429.02,289.12 L429.25,287.81 L428.3,286.88 L429.61,286.69Z" fill="#000"/>
<line x1="454.7" y1="339.8" x2="454.7" y2="343" stroke="#000" stroke-width="2" stroke-linecap="butt"/>
<text x="454.7" y="354" font-size="9.2" text-anchor="middle">36</text>
<path d="M446 339.8V264.75H453V339.8" fill="none" stroke="#000" stroke-width="2"/>
<line x1="449.5" y1="258" x2="449.5" y2="269.49" stroke="#8c8c8c" stroke-width="1" stroke-linecap="butt"/>
<line x1="447.3" y1="258" x2="451.7" y2="258" stroke="#8c8c8c" stroke-width="1" stroke-linecap="butt"/>
<circle cx="449.5" cy="258.87" r="1.1" fill="none" stroke="#8c8c8c" stroke-width="0.8"/>
<circle cx="449.5" cy="263.17" r="1.1" fill="none" stroke="#8c8c8c" stroke-width="0.8"/>
<circle cx="449.5" cy="269.2" r="1.1" fill="none" stroke="#8c8c8c" stroke-width="0.8"/>
<path d="M457.2 339.8V314.97H464.2V339.8" fill="none" stroke="#ae1717" stroke-width="2"/>
<line x1="460.7" y1="313.25" x2="460.7" y2="314.69" stroke="#8c8c8c" stroke-width="1" stroke-linecap="butt"/>
<line x1="458.5" y1="313.25" x2="462.9" y2="313.25" stroke="#8c8c8c" stroke-width="1" stroke-linecap="butt"/>
<circle cx="460.7" cy="313.36" r="1.1" fill="none" stroke="#8c8c8c" stroke-width="0.8"/>
<circle cx="460.7" cy="313.9" r="1.1" fill="none" stroke="#8c8c8c" stroke-width="0.8"/>
<circle cx="460.7" cy="314.65" r="1.1" fill="none" stroke="#8c8c8c" stroke-width="0.8"/>
<path d="M449.5 254.1V249.1H460.7V254.1" fill="none" stroke="#000" stroke-width="2"/>
<path d="M451.5,240 L452.09,241.19 L453.4,241.38 L452.45,242.31 L452.68,243.62 L451.5,243 L450.32,243.62 L450.55,242.31 L449.6,241.38 L450.91,241.19Z M455.1,240 L455.69,241.19 L457,241.38 L456.05,242.31 L456.28,243.62 L455.1,243 L453.92,243.62 L454.15,242.31 L453.2,241.38 L454.51,241.19Z M458.7,240 L459.29,241.19 L460.6,241.38 L459.65,242.31 L459.88,243.62 L458.7,243 L457.52,243.62 L457.75,242.31 L456.8,241.38 L458.11,241.19Z" fill="#000"/>
<line x1="483.2" y1="339.8" x2="483.2" y2="343" stroke="#000" stroke-width="2" stroke-linecap="butt"/>
<text x="483.2" y="354" font-size="9.2" text-anchor="middle">48</text>
<path d="M474.5 339.8V239.63H481.5V339.8" fill="none" stroke="#000" stroke-width="2"/>
<line x1="478" y1="230.74" x2="478" y2="246.53" stroke="#8c8c8c" stroke-width="1" stroke-linecap="butt"/>
<line x1="475.8" y1="230.74" x2="480.2" y2="230.74" stroke="#8c8c8c" stroke-width="1" stroke-linecap="butt"/>
<circle cx="478" cy="231.92" r="1.1" fill="none" stroke="#8c8c8c" stroke-width="0.8"/>
<circle cx="478" cy="237.84" r="1.1" fill="none" stroke="#8c8c8c" stroke-width="0.8"/>
<circle cx="478" cy="246.13" r="1.1" fill="none" stroke="#8c8c8c" stroke-width="0.8"/>
<path d="M485.7 339.8V295.6H492.7V339.8" fill="none" stroke="#ae1717" stroke-width="2"/>
<line x1="489.2" y1="293.16" x2="489.2" y2="296.03" stroke="#8c8c8c" stroke-width="1" stroke-linecap="butt"/>
<line x1="487" y1="293.16" x2="491.4" y2="293.16" stroke="#8c8c8c" stroke-width="1" stroke-linecap="butt"/>
<circle cx="489.2" cy="293.38" r="1.1" fill="none" stroke="#8c8c8c" stroke-width="0.8"/>
<circle cx="489.2" cy="294.45" r="1.1" fill="none" stroke="#8c8c8c" stroke-width="0.8"/>
<circle cx="489.2" cy="295.96" r="1.1" fill="none" stroke="#8c8c8c" stroke-width="0.8"/>
<path d="M478 230.2V225.2H489.2V230.2" fill="none" stroke="#000" stroke-width="2"/>
<path d="M480,214.6 L480.59,215.79 L481.9,215.98 L480.95,216.91 L481.18,218.22 L480,217.6 L478.82,218.22 L479.05,216.91 L478.1,215.98 L479.41,215.79Z M483.6,214.6 L484.19,215.79 L485.5,215.98 L484.55,216.91 L484.78,218.22 L483.6,217.6 L482.42,218.22 L482.65,216.91 L481.7,215.98 L483.01,215.79Z M487.2,214.6 L487.79,215.79 L489.1,215.98 L488.15,216.91 L488.38,218.22 L487.2,217.6 L486.02,218.22 L486.25,216.91 L485.3,215.98 L486.61,215.79Z" fill="#000"/>
<text x="498.4" y="354" font-size="10.2" text-anchor="start">(hpi)</text>
<text x="448.4" y="198" font-size="10.2" text-anchor="middle">S RNA</text>
<rect x="391" y="210.9" width="9.7" height="9.7" fill="none" stroke="#000" stroke-width="2"/>
<text x="404.3" y="219.9" font-size="9.7" text-anchor="start">Vector</text>
<rect x="391" y="225.5" width="9.7" height="9.7" fill="none" stroke="#ae1717" stroke-width="2"/>
<text x="404" y="233.9" font-size="9.7" text-anchor="start">Flag-CCND3</text>
<text transform="translate(368.3 285.5) rotate(-90)" font-size="10.2" text-anchor="middle">Rel. HRTV RNA level</text>
<line x1="556" y1="223.5" x2="556" y2="338.5" stroke="#000" stroke-width="2" stroke-linecap="butt"/>
<line x1="552.5" y1="337.5" x2="670.5" y2="337.5" stroke="#000" stroke-width="2" stroke-linecap="butt"/>
<line x1="552.5" y1="337.5" x2="556" y2="337.5" stroke="#000" stroke-width="2" stroke-linecap="butt"/>
<text x="550.8" y="341.23" font-size="10.5" text-anchor="end">3</text>
<line x1="552.5" y1="309" x2="556" y2="309" stroke="#000" stroke-width="2" stroke-linecap="butt"/>
<text x="550.8" y="312.73" font-size="10.5" text-anchor="end">4</text>
<line x1="552.5" y1="280.5" x2="556" y2="280.5" stroke="#000" stroke-width="2" stroke-linecap="butt"/>
<text x="550.8" y="284.23" font-size="10.5" text-anchor="end">5</text>
<line x1="552.5" y1="252" x2="556" y2="252" stroke="#000" stroke-width="2" stroke-linecap="butt"/>
<text x="550.8" y="255.73" font-size="10.5" text-anchor="end">6</text>
<line x1="552.5" y1="223.5" x2="556" y2="223.5" stroke="#000" stroke-width="2" stroke-linecap="butt"/>
<text x="550.8" y="227.23" font-size="10.5" text-anchor="end">7</text>
<line x1="573" y1="337.5" x2="573" y2="341" stroke="#000" stroke-width="2" stroke-linecap="butt"/>
<text x="573" y="351.5" font-size="9.6" text-anchor="middle">12</text>
<line x1="599.45" y1="337.5" x2="599.45" y2="341" stroke="#000" stroke-width="2" stroke-linecap="butt"/>
<text x="599.45" y="351.5" font-size="9.6" text-anchor="middle">24</text>
<line x1="625.9" y1="337.5" x2="625.9" y2="341" stroke="#000" stroke-width="2" stroke-linecap="butt"/>
<text x="625.9" y="351.5" font-size="9.6" text-anchor="middle">36</text>
<line x1="652.35" y1="337.5" x2="652.35" y2="341" stroke="#000" stroke-width="2" stroke-linecap="butt"/>
<text x="652.35" y="351.5" font-size="9.6" text-anchor="middle">48</text>
<text x="665.3" y="349.4" font-size="9.2" text-anchor="start">(hpi)</text>
<polyline points="573,331.8 599.45,319.55 625.9,291.9 652.35,270.52" fill="none" stroke="#b01e1e" stroke-width="2.4" stroke-linejoin="round"/>
<line x1="573" y1="330.66" x2="573" y2="332.94" stroke="#b01e1e" stroke-width="1.2" stroke-linecap="butt"/>
<line x1="571" y1="330.66" x2="575" y2="330.66" stroke="#b01e1e" stroke-width="1.1" stroke-linecap="butt"/>
<line x1="571" y1="332.94" x2="575" y2="332.94" stroke="#b01e1e" stroke-width="1.1" stroke-linecap="butt"/>
<rect x="570.9" y="329.7" width="4.2" height="4.2" fill="#b01e1e"/>
<rect x="597.35" y="317.44" width="4.2" height="4.2" fill="#b01e1e"/>
<rect x="623.8" y="289.8" width="4.2" height="4.2" fill="#b01e1e"/>
<rect x="650.25" y="268.42" width="4.2" height="4.2" fill="#b01e1e"/>
<polyline points="573,329.52 599.45,293.32 625.9,268.25 652.35,244.02" fill="none" stroke="#1a1aff" stroke-width="2.0" stroke-linejoin="round"/>
<line x1="573" y1="327.53" x2="573" y2="331.51" stroke="#000" stroke-width="1.2" stroke-linecap="butt"/>
<line x1="571" y1="327.53" x2="575" y2="327.53" stroke="#000" stroke-width="1.1" stroke-linecap="butt"/>
<line x1="571" y1="331.51" x2="575" y2="331.51" stroke="#000" stroke-width="1.1" stroke-linecap="butt"/>
<circle cx="573" cy="329.52" r="2.5" fill="#000"/>
<circle cx="599.45" cy="293.32" r="2.5" fill="#000"/>
<line x1="625.9" y1="266.82" x2="625.9" y2="269.67" stroke="#000" stroke-width="1.2" stroke-linecap="butt"/>
<line x1="623.9" y1="266.82" x2="627.9" y2="266.82" stroke="#000" stroke-width="1.1" stroke-linecap="butt"/>
<line x1="623.9" y1="269.67" x2="627.9" y2="269.67" stroke="#000" stroke-width="1.1" stroke-linecap="butt"/>
<circle cx="625.9" cy="268.25" r="2.5" fill="#000"/>
<line x1="652.35" y1="242.02" x2="652.35" y2="246.01" stroke="#000" stroke-width="1.2" stroke-linecap="butt"/>
<line x1="650.35" y1="242.02" x2="654.35" y2="242.02" stroke="#000" stroke-width="1.1" stroke-linecap="butt"/>
<line x1="650.35" y1="246.01" x2="654.35" y2="246.01" stroke="#000" stroke-width="1.1" stroke-linecap="butt"/>
<circle cx="652.35" cy="244.02" r="2.5" fill="#000"/>
<text x="570.3" y="321.4" font-size="10.5" text-anchor="middle">ns</text>
<path d="M581.35,280.33 L582.1,281.85 L583.78,282.09 L582.56,283.28 L582.85,284.95 L581.35,284.16 L579.85,284.95 L580.14,283.28 L578.92,282.09 L580.6,281.85Z M586.45,280.33 L587.2,281.85 L588.88,282.09 L587.66,283.28 L587.95,284.95 L586.45,284.16 L584.95,284.95 L585.24,283.28 L584.02,282.09 L585.7,281.85Z M591.55,280.33 L592.3,281.85 L593.98,282.09 L592.76,283.28 L593.05,284.95 L591.55,284.16 L590.05,284.95 L590.34,283.28 L589.12,282.09 L590.8,281.85Z M596.65,280.33 L597.4,281.85 L599.08,282.09 L597.86,283.28 L598.15,284.95 L596.65,284.16 L595.15,284.95 L595.44,283.28 L594.22,282.09 L595.9,281.85Z" fill="#000"/>
<path d="M616.15,253.03 L616.9,254.55 L618.58,254.79 L617.36,255.98 L617.65,257.65 L616.15,256.86 L614.65,257.65 L614.94,255.98 L613.72,254.79 L615.4,254.55Z M621.25,253.03 L622,254.55 L623.68,254.79 L622.46,255.98 L622.75,257.65 L621.25,256.86 L619.75,257.65 L620.04,255.98 L618.82,254.79 L620.5,254.55Z M626.35,253.03 L627.1,254.55 L628.78,254.79 L627.56,255.98 L627.85,257.65 L626.35,256.86 L624.85,257.65 L625.14,255.98 L623.92,254.79 L625.6,254.55Z M631.45,253.03 L632.2,254.55 L633.88,254.79 L632.66,255.98 L632.95,257.65 L631.45,256.86 L629.95,257.65 L630.24,255.98 L629.02,254.79 L630.7,254.55Z" fill="#000"/>
<path d="M646.55,232.03 L647.3,233.55 L648.98,233.79 L647.76,234.98 L648.05,236.65 L646.55,235.86 L645.05,236.65 L645.34,234.98 L644.12,233.79 L645.8,233.55Z M651.65,232.03 L652.4,233.55 L654.08,233.79 L652.86,234.98 L653.15,236.65 L651.65,235.86 L650.15,236.65 L650.44,234.98 L649.22,233.79 L650.9,233.55Z M656.75,232.03 L657.5,233.55 L659.18,233.79 L657.96,234.98 L658.25,236.65 L656.75,235.86 L655.25,236.65 L655.54,234.98 L654.32,233.79 L656,233.55Z M661.85,232.03 L662.6,233.55 L664.28,233.79 L663.06,234.98 L663.35,236.65 L661.85,235.86 L660.35,236.65 L660.64,234.98 L659.42,233.79 L661.1,233.55Z" fill="#000"/>
<line x1="560.2" y1="197.6" x2="580.9" y2="197.6" stroke="#1a1aff" stroke-width="2.3" stroke-linecap="butt"/>
<circle cx="570.55" cy="197.6" r="2.2" fill="#000"/>
<text x="591.7" y="201" font-size="9.5" text-anchor="start">Vector</text>
<line x1="560.2" y1="211.5" x2="580.9" y2="211.5" stroke="#b01e1e" stroke-width="2.3" stroke-linecap="butt"/>
<rect x="568.55" y="209.5" width="4" height="4" fill="#b01e1e"/>
<text x="591.7" y="214.9" font-size="9.5" text-anchor="start">Flag-CCND3</text>
<text transform="translate(537 282) rotate(-90)" font-size="9.65" text-anchor="middle">HRTV titer, log<tspan font-size="7" dy="2.2">10</tspan><tspan dy="-2.2"> (TCID</tspan><tspan font-size="7" dy="2.2">50</tspan><tspan dy="-2.2">/mL)</tspan></text>
<line x1="38.7" y1="401.1" x2="38.7" y2="516.5" stroke="#000" stroke-width="2" stroke-linecap="butt"/>
<line x1="35.5" y1="515.5" x2="153.7" y2="515.5" stroke="#000" stroke-width="2" stroke-linecap="butt"/>
<line x1="35.5" y1="515.5" x2="38.7" y2="515.5" stroke="#000" stroke-width="2" stroke-linecap="butt"/>
<text x="33.1" y="518.77" font-size="9.2" text-anchor="end">0</text>
<line x1="35.5" y1="486.9" x2="38.7" y2="486.9" stroke="#000" stroke-width="2" stroke-linecap="butt"/>
<text x="33.1" y="490.17" font-size="9.2" text-anchor="end">50</text>
<line x1="35.5" y1="458.3" x2="38.7" y2="458.3" stroke="#000" stroke-width="2" stroke-linecap="butt"/>
<text x="33.1" y="461.57" font-size="9.2" text-anchor="end">100</text>
<line x1="35.5" y1="429.7" x2="38.7" y2="429.7" stroke="#000" stroke-width="2" stroke-linecap="butt"/>
<text x="33.1" y="432.97" font-size="9.2" text-anchor="end">150</text>
<line x1="35.5" y1="401.1" x2="38.7" y2="401.1" stroke="#000" stroke-width="2" stroke-linecap="butt"/>
<text x="33.1" y="404.37" font-size="9.2" text-anchor="end">200</text>
<line x1="53" y1="515.5" x2="53" y2="518.7" stroke="#000" stroke-width="2" stroke-linecap="butt"/>
<text x="53" y="529.5" font-size="9.2" text-anchor="middle">12</text>
<rect x="43.3" y="514.71" width="9" height="1.1" fill="#000"/>
<line x1="47.8" y1="515.04" x2="47.8" y2="515.39" stroke="#8c8c8c" stroke-width="1" stroke-linecap="butt"/>
<line x1="45.6" y1="515.04" x2="50" y2="515.04" stroke="#8c8c8c" stroke-width="1" stroke-linecap="butt"/>
<circle cx="47.8" cy="515.07" r="1.1" fill="none" stroke="#8c8c8c" stroke-width="0.8"/>
<circle cx="47.8" cy="515.2" r="1.1" fill="none" stroke="#8c8c8c" stroke-width="0.8"/>
<circle cx="47.8" cy="515.38" r="1.1" fill="none" stroke="#8c8c8c" stroke-width="0.8"/>
<rect x="54.5" y="513.86" width="9" height="1.64" fill="#ae1717"/>
<line x1="59" y1="513.78" x2="59" y2="514.93" stroke="#8c8c8c" stroke-width="1" stroke-linecap="butt"/>
<line x1="56.8" y1="513.78" x2="61.2" y2="513.78" stroke="#8c8c8c" stroke-width="1" stroke-linecap="butt"/>
<circle cx="59" cy="513.87" r="1.1" fill="none" stroke="#8c8c8c" stroke-width="0.8"/>
<circle cx="59" cy="514.3" r="1.1" fill="none" stroke="#8c8c8c" stroke-width="0.8"/>
<circle cx="59" cy="514.9" r="1.1" fill="none" stroke="#8c8c8c" stroke-width="0.8"/>
<path d="M47.8 509.5V504.5H59V509.5" fill="none" stroke="#000" stroke-width="2"/>
<path d="M48,494.6 L48.59,495.79 L49.9,495.98 L48.95,496.91 L49.18,498.22 L48,497.6 L46.82,498.22 L47.05,496.91 L46.1,495.98 L47.41,495.79Z M51.6,494.6 L52.19,495.79 L53.5,495.98 L52.55,496.91 L52.78,498.22 L51.6,497.6 L50.42,498.22 L50.65,496.91 L49.7,495.98 L51.01,495.79Z M55.2,494.6 L55.79,495.79 L57.1,495.98 L56.15,496.91 L56.38,498.22 L55.2,497.6 L54.02,498.22 L54.25,496.91 L53.3,495.98 L54.61,495.79Z M58.8,494.6 L59.39,495.79 L60.7,495.98 L59.75,496.91 L59.98,498.22 L58.8,497.6 L57.62,498.22 L57.85,496.91 L56.9,495.98 L58.21,495.79Z" fill="#000"/>
<line x1="81.5" y1="515.5" x2="81.5" y2="518.7" stroke="#000" stroke-width="2" stroke-linecap="butt"/>
<text x="81.5" y="529.5" font-size="9.2" text-anchor="middle">24</text>
<path d="M72.8 515.5V514.21H79.8V515.5" fill="none" stroke="#000" stroke-width="2"/>
<line x1="76.3" y1="512.35" x2="76.3" y2="514.07" stroke="#8c8c8c" stroke-width="1" stroke-linecap="butt"/>
<line x1="74.1" y1="512.35" x2="78.5" y2="512.35" stroke="#8c8c8c" stroke-width="1" stroke-linecap="butt"/>
<circle cx="76.3" cy="512.48" r="1.1" fill="none" stroke="#8c8c8c" stroke-width="0.8"/>
<circle cx="76.3" cy="513.13" r="1.1" fill="none" stroke="#8c8c8c" stroke-width="0.8"/>
<circle cx="76.3" cy="514.03" r="1.1" fill="none" stroke="#8c8c8c" stroke-width="0.8"/>
<path d="M84 515.5V501.63H91V515.5" fill="none" stroke="#ae1717" stroke-width="2"/>
<line x1="87.5" y1="500.06" x2="87.5" y2="501.2" stroke="#8c8c8c" stroke-width="1" stroke-linecap="butt"/>
<line x1="85.3" y1="500.06" x2="89.7" y2="500.06" stroke="#8c8c8c" stroke-width="1" stroke-linecap="butt"/>
<circle cx="87.5" cy="500.14" r="1.1" fill="none" stroke="#8c8c8c" stroke-width="0.8"/>
<circle cx="87.5" cy="500.57" r="1.1" fill="none" stroke="#8c8c8c" stroke-width="0.8"/>
<circle cx="87.5" cy="501.17" r="1.1" fill="none" stroke="#8c8c8c" stroke-width="0.8"/>
<path d="M76.3 496.9V491.9H87.5V496.9" fill="none" stroke="#000" stroke-width="2"/>
<path d="M76.5,482.3 L77.09,483.49 L78.4,483.68 L77.45,484.61 L77.68,485.92 L76.5,485.3 L75.32,485.92 L75.55,484.61 L74.6,483.68 L75.91,483.49Z M80.1,482.3 L80.69,483.49 L82,483.68 L81.05,484.61 L81.28,485.92 L80.1,485.3 L78.92,485.92 L79.15,484.61 L78.2,483.68 L79.51,483.49Z M83.7,482.3 L84.29,483.49 L85.6,483.68 L84.65,484.61 L84.88,485.92 L83.7,485.3 L82.52,485.92 L82.75,484.61 L81.8,483.68 L83.11,483.49Z M87.3,482.3 L87.89,483.49 L89.2,483.68 L88.25,484.61 L88.48,485.92 L87.3,485.3 L86.12,485.92 L86.35,484.61 L85.4,483.68 L86.71,483.49Z" fill="#000"/>
<line x1="110" y1="515.5" x2="110" y2="518.7" stroke="#000" stroke-width="2" stroke-linecap="butt"/>
<text x="110" y="529.5" font-size="9.2" text-anchor="middle">36</text>
<path d="M101.3 515.5V505.06H108.3V515.5" fill="none" stroke="#000" stroke-width="2"/>
<line x1="104.8" y1="502.92" x2="104.8" y2="505.2" stroke="#8c8c8c" stroke-width="1" stroke-linecap="butt"/>
<line x1="102.6" y1="502.92" x2="107" y2="502.92" stroke="#8c8c8c" stroke-width="1" stroke-linecap="butt"/>
<circle cx="104.8" cy="503.09" r="1.1" fill="none" stroke="#8c8c8c" stroke-width="0.8"/>
<circle cx="104.8" cy="503.95" r="1.1" fill="none" stroke="#8c8c8c" stroke-width="0.8"/>
<circle cx="104.8" cy="505.15" r="1.1" fill="none" stroke="#8c8c8c" stroke-width="0.8"/>
<path d="M112.5 515.5V461.02H119.5V515.5" fill="none" stroke="#ae1717" stroke-width="2"/>
<line x1="116" y1="454.3" x2="116" y2="465.74" stroke="#8c8c8c" stroke-width="1" stroke-linecap="butt"/>
<line x1="113.8" y1="454.3" x2="118.2" y2="454.3" stroke="#8c8c8c" stroke-width="1" stroke-linecap="butt"/>
<circle cx="116" cy="455.15" r="1.1" fill="none" stroke="#8c8c8c" stroke-width="0.8"/>
<circle cx="116" cy="459.44" r="1.1" fill="none" stroke="#8c8c8c" stroke-width="0.8"/>
<circle cx="116" cy="465.45" r="1.1" fill="none" stroke="#8c8c8c" stroke-width="0.8"/>
<path d="M104.8 451.7V446.7H116V451.7" fill="none" stroke="#000" stroke-width="2"/>
<path d="M106.8,437.1 L107.39,438.29 L108.7,438.48 L107.75,439.41 L107.98,440.72 L106.8,440.1 L105.62,440.72 L105.85,439.41 L104.9,438.48 L106.21,438.29Z M110.4,437.1 L110.99,438.29 L112.3,438.48 L111.35,439.41 L111.58,440.72 L110.4,440.1 L109.22,440.72 L109.45,439.41 L108.5,438.48 L109.81,438.29Z M114,437.1 L114.59,438.29 L115.9,438.48 L114.95,439.41 L115.18,440.72 L114,440.1 L112.82,440.72 L113.05,439.41 L112.1,438.48 L113.41,438.29Z" fill="#000"/>
<line x1="138.5" y1="515.5" x2="138.5" y2="518.7" stroke="#000" stroke-width="2" stroke-linecap="butt"/>
<text x="138.5" y="529.5" font-size="9.2" text-anchor="middle">48</text>
<path d="M129.8 515.5V485.61H136.8V515.5" fill="none" stroke="#000" stroke-width="2"/>
<line x1="133.3" y1="483.47" x2="133.3" y2="485.76" stroke="#8c8c8c" stroke-width="1" stroke-linecap="butt"/>
<line x1="131.1" y1="483.47" x2="135.5" y2="483.47" stroke="#8c8c8c" stroke-width="1" stroke-linecap="butt"/>
<circle cx="133.3" cy="483.64" r="1.1" fill="none" stroke="#8c8c8c" stroke-width="0.8"/>
<circle cx="133.3" cy="484.5" r="1.1" fill="none" stroke="#8c8c8c" stroke-width="0.8"/>
<circle cx="133.3" cy="485.7" r="1.1" fill="none" stroke="#8c8c8c" stroke-width="0.8"/>
<path d="M141 515.5V445H148V515.5" fill="none" stroke="#ae1717" stroke-width="2"/>
<line x1="144.5" y1="431.42" x2="144.5" y2="456.58" stroke="#8c8c8c" stroke-width="1" stroke-linecap="butt"/>
<line x1="142.3" y1="431.42" x2="146.7" y2="431.42" stroke="#8c8c8c" stroke-width="1" stroke-linecap="butt"/>
<circle cx="144.5" cy="433.3" r="1.1" fill="none" stroke="#8c8c8c" stroke-width="0.8"/>
<circle cx="144.5" cy="442.74" r="1.1" fill="none" stroke="#8c8c8c" stroke-width="0.8"/>
<circle cx="144.5" cy="455.95" r="1.1" fill="none" stroke="#8c8c8c" stroke-width="0.8"/>
<path d="M133.3 426.7V421.7H144.5V426.7" fill="none" stroke="#000" stroke-width="2"/>
<path d="M137.1,412.1 L137.69,413.29 L139,413.48 L138.05,414.41 L138.28,415.72 L137.1,415.1 L135.92,415.72 L136.15,414.41 L135.2,413.48 L136.51,413.29Z M140.7,412.1 L141.29,413.29 L142.6,413.48 L141.65,414.41 L141.88,415.72 L140.7,415.1 L139.52,415.72 L139.75,414.41 L138.8,413.48 L140.11,413.29Z" fill="#000"/>
<text x="151.9" y="529.5" font-size="10.2" text-anchor="start">(hpi)</text>
<text x="95" y="384.2" font-size="10.2" text-anchor="middle">L RNA</text>
<rect x="46.8" y="395.4" width="9.7" height="9.7" fill="none" stroke="#000" stroke-width="2"/>
<text x="63" y="403.8" font-size="9.7" text-anchor="start">WT</text>
<rect x="46.8" y="410.3" width="9.7" height="9.7" fill="none" stroke="#ae1717" stroke-width="2"/>
<text x="63.5" y="418.7" font-size="9.7" text-anchor="start">CCND3 KO</text>
<text transform="translate(14.3 461.6) rotate(-90)" font-size="10.2" text-anchor="middle">Rel. GTV RNA level</text>
<line x1="207.2" y1="402.4" x2="207.2" y2="518.2" stroke="#000" stroke-width="2" stroke-linecap="butt"/>
<line x1="204" y1="517.2" x2="322.2" y2="517.2" stroke="#000" stroke-width="2" stroke-linecap="butt"/>
<line x1="204" y1="517.2" x2="207.2" y2="517.2" stroke="#000" stroke-width="2" stroke-linecap="butt"/>
<text x="201.6" y="520.47" font-size="9.2" text-anchor="end">0</text>
<line x1="204" y1="488.5" x2="207.2" y2="488.5" stroke="#000" stroke-width="2" stroke-linecap="butt"/>
<text x="201.6" y="491.77" font-size="9.2" text-anchor="end">100</text>
<line x1="204" y1="459.8" x2="207.2" y2="459.8" stroke="#000" stroke-width="2" stroke-linecap="butt"/>
<text x="201.6" y="463.07" font-size="9.2" text-anchor="end">200</text>
<line x1="204" y1="431.1" x2="207.2" y2="431.1" stroke="#000" stroke-width="2" stroke-linecap="butt"/>
<text x="201.6" y="434.37" font-size="9.2" text-anchor="end">300</text>
<line x1="204" y1="402.4" x2="207.2" y2="402.4" stroke="#000" stroke-width="2" stroke-linecap="butt"/>
<text x="201.6" y="405.67" font-size="9.2" text-anchor="end">400</text>
<line x1="220.7" y1="517.2" x2="220.7" y2="520.4" stroke="#000" stroke-width="2" stroke-linecap="butt"/>
<text x="220.7" y="531" font-size="9.2" text-anchor="middle">12</text>
<rect x="211" y="516.56" width="9" height="1.1" fill="#000"/>
<circle cx="215.5" cy="517.06" r="1.1" fill="none" stroke="#8c8c8c" stroke-width="0.8"/>
<rect x="222.2" y="516.13" width="9" height="1.1" fill="#ae1717"/>
<line x1="226.7" y1="516.34" x2="226.7" y2="516.91" stroke="#8c8c8c" stroke-width="1" stroke-linecap="butt"/>
<line x1="224.5" y1="516.34" x2="228.9" y2="516.34" stroke="#8c8c8c" stroke-width="1" stroke-linecap="butt"/>
<circle cx="226.7" cy="516.38" r="1.1" fill="none" stroke="#8c8c8c" stroke-width="0.8"/>
<circle cx="226.7" cy="516.6" r="1.1" fill="none" stroke="#8c8c8c" stroke-width="0.8"/>
<circle cx="226.7" cy="516.9" r="1.1" fill="none" stroke="#8c8c8c" stroke-width="0.8"/>
<path d="M215.5 511.9V506.9H226.7V511.9" fill="none" stroke="#000" stroke-width="2"/>
<path d="M215.7,497.3 L216.29,498.49 L217.6,498.68 L216.65,499.61 L216.88,500.92 L215.7,500.3 L214.52,500.92 L214.75,499.61 L213.8,498.68 L215.11,498.49Z M219.3,497.3 L219.89,498.49 L221.2,498.68 L220.25,499.61 L220.48,500.92 L219.3,500.3 L218.12,500.92 L218.35,499.61 L217.4,498.68 L218.71,498.49Z M222.9,497.3 L223.49,498.49 L224.8,498.68 L223.85,499.61 L224.08,500.92 L222.9,500.3 L221.72,500.92 L221.95,499.61 L221,498.68 L222.31,498.49Z M226.5,497.3 L227.09,498.49 L228.4,498.68 L227.45,499.61 L227.68,500.92 L226.5,500.3 L225.32,500.92 L225.55,499.61 L224.6,498.68 L225.91,498.49Z" fill="#000"/>
<line x1="249.2" y1="517.2" x2="249.2" y2="520.4" stroke="#000" stroke-width="2" stroke-linecap="butt"/>
<text x="249.2" y="531" font-size="9.2" text-anchor="middle">24</text>
<rect x="239.5" y="515.84" width="9" height="1.36" fill="#000"/>
<line x1="244" y1="516.05" x2="244" y2="516.63" stroke="#8c8c8c" stroke-width="1" stroke-linecap="butt"/>
<line x1="241.8" y1="516.05" x2="246.2" y2="516.05" stroke="#8c8c8c" stroke-width="1" stroke-linecap="butt"/>
<circle cx="244" cy="516.1" r="1.1" fill="none" stroke="#8c8c8c" stroke-width="0.8"/>
<circle cx="244" cy="516.31" r="1.1" fill="none" stroke="#8c8c8c" stroke-width="0.8"/>
<circle cx="244" cy="516.61" r="1.1" fill="none" stroke="#8c8c8c" stroke-width="0.8"/>
<path d="M251.7 517.2V508.73H258.7V517.2" fill="none" stroke="#ae1717" stroke-width="2"/>
<line x1="255.2" y1="505.43" x2="255.2" y2="510.03" stroke="#8c8c8c" stroke-width="1" stroke-linecap="butt"/>
<line x1="253" y1="505.43" x2="257.4" y2="505.43" stroke="#8c8c8c" stroke-width="1" stroke-linecap="butt"/>
<circle cx="255.2" cy="505.78" r="1.1" fill="none" stroke="#8c8c8c" stroke-width="0.8"/>
<circle cx="255.2" cy="507.5" r="1.1" fill="none" stroke="#8c8c8c" stroke-width="0.8"/>
<circle cx="255.2" cy="509.91" r="1.1" fill="none" stroke="#8c8c8c" stroke-width="0.8"/>
<path d="M244 500.3V495.3H255.2V500.3" fill="none" stroke="#000" stroke-width="2"/>
<path d="M246,485.7 L246.59,486.89 L247.9,487.08 L246.95,488.01 L247.18,489.32 L246,488.7 L244.82,489.32 L245.05,488.01 L244.1,487.08 L245.41,486.89Z M249.6,485.7 L250.19,486.89 L251.5,487.08 L250.55,488.01 L250.78,489.32 L249.6,488.7 L248.42,489.32 L248.65,488.01 L247.7,487.08 L249.01,486.89Z M253.2,485.7 L253.79,486.89 L255.1,487.08 L254.15,488.01 L254.38,489.32 L253.2,488.7 L252.02,489.32 L252.25,488.01 L251.3,487.08 L252.61,486.89Z" fill="#000"/>
<line x1="277.7" y1="517.2" x2="277.7" y2="520.4" stroke="#000" stroke-width="2" stroke-linecap="butt"/>
<text x="277.7" y="531" font-size="9.2" text-anchor="middle">36</text>
<path d="M269 517.2V509.59H276V517.2" fill="none" stroke="#000" stroke-width="2"/>
<line x1="272.5" y1="507.44" x2="272.5" y2="509.74" stroke="#8c8c8c" stroke-width="1" stroke-linecap="butt"/>
<line x1="270.3" y1="507.44" x2="274.7" y2="507.44" stroke="#8c8c8c" stroke-width="1" stroke-linecap="butt"/>
<circle cx="272.5" cy="507.61" r="1.1" fill="none" stroke="#8c8c8c" stroke-width="0.8"/>
<circle cx="272.5" cy="508.48" r="1.1" fill="none" stroke="#8c8c8c" stroke-width="0.8"/>
<circle cx="272.5" cy="509.68" r="1.1" fill="none" stroke="#8c8c8c" stroke-width="0.8"/>
<path d="M280.2 517.2V473.72H287.2V517.2" fill="none" stroke="#ae1717" stroke-width="2"/>
<line x1="283.7" y1="470.42" x2="283.7" y2="475.01" stroke="#8c8c8c" stroke-width="1" stroke-linecap="butt"/>
<line x1="281.5" y1="470.42" x2="285.9" y2="470.42" stroke="#8c8c8c" stroke-width="1" stroke-linecap="butt"/>
<circle cx="283.7" cy="470.76" r="1.1" fill="none" stroke="#8c8c8c" stroke-width="0.8"/>
<circle cx="283.7" cy="472.49" r="1.1" fill="none" stroke="#8c8c8c" stroke-width="0.8"/>
<circle cx="283.7" cy="474.9" r="1.1" fill="none" stroke="#8c8c8c" stroke-width="0.8"/>
<path d="M272.5 467.2V462.2H283.7V467.2" fill="none" stroke="#000" stroke-width="2"/>
<path d="M272.7,452.6 L273.29,453.79 L274.6,453.98 L273.65,454.91 L273.88,456.22 L272.7,455.6 L271.52,456.22 L271.75,454.91 L270.8,453.98 L272.11,453.79Z M276.3,452.6 L276.89,453.79 L278.2,453.98 L277.25,454.91 L277.48,456.22 L276.3,455.6 L275.12,456.22 L275.35,454.91 L274.4,453.98 L275.71,453.79Z M279.9,452.6 L280.49,453.79 L281.8,453.98 L280.85,454.91 L281.08,456.22 L279.9,455.6 L278.72,456.22 L278.95,454.91 L278,453.98 L279.31,453.79Z M283.5,452.6 L284.09,453.79 L285.4,453.98 L284.45,454.91 L284.68,456.22 L283.5,455.6 L282.32,456.22 L282.55,454.91 L281.6,453.98 L282.91,453.79Z" fill="#000"/>
<line x1="306.2" y1="517.2" x2="306.2" y2="520.4" stroke="#000" stroke-width="2" stroke-linecap="butt"/>
<text x="306.2" y="531" font-size="9.2" text-anchor="middle">48</text>
<path d="M297.5 517.2V494.38H304.5V517.2" fill="none" stroke="#000" stroke-width="2"/>
<line x1="301" y1="489.94" x2="301" y2="496.82" stroke="#8c8c8c" stroke-width="1" stroke-linecap="butt"/>
<line x1="298.8" y1="489.94" x2="303.2" y2="489.94" stroke="#8c8c8c" stroke-width="1" stroke-linecap="butt"/>
<circle cx="301" cy="490.45" r="1.1" fill="none" stroke="#8c8c8c" stroke-width="0.8"/>
<circle cx="301" cy="493.03" r="1.1" fill="none" stroke="#8c8c8c" stroke-width="0.8"/>
<circle cx="301" cy="496.65" r="1.1" fill="none" stroke="#8c8c8c" stroke-width="0.8"/>
<path d="M308.7 517.2V428.37H315.7V517.2" fill="none" stroke="#ae1717" stroke-width="2"/>
<line x1="312.2" y1="423.06" x2="312.2" y2="431.67" stroke="#8c8c8c" stroke-width="1" stroke-linecap="butt"/>
<line x1="310" y1="423.06" x2="314.4" y2="423.06" stroke="#8c8c8c" stroke-width="1" stroke-linecap="butt"/>
<circle cx="312.2" cy="423.71" r="1.1" fill="none" stroke="#8c8c8c" stroke-width="0.8"/>
<circle cx="312.2" cy="426.94" r="1.1" fill="none" stroke="#8c8c8c" stroke-width="0.8"/>
<circle cx="312.2" cy="431.46" r="1.1" fill="none" stroke="#8c8c8c" stroke-width="0.8"/>
<path d="M301 418.8V413.8H312.2V418.8" fill="none" stroke="#000" stroke-width="2"/>
<path d="M301.2,404.3 L301.79,405.49 L303.1,405.68 L302.15,406.61 L302.38,407.92 L301.2,407.3 L300.02,407.92 L300.25,406.61 L299.3,405.68 L300.61,405.49Z M304.8,404.3 L305.39,405.49 L306.7,405.68 L305.75,406.61 L305.98,407.92 L304.8,407.3 L303.62,407.92 L303.85,406.61 L302.9,405.68 L304.21,405.49Z M308.4,404.3 L308.99,405.49 L310.3,405.68 L309.35,406.61 L309.58,407.92 L308.4,407.3 L307.22,407.92 L307.45,406.61 L306.5,405.68 L307.81,405.49Z M312,404.3 L312.59,405.49 L313.9,405.68 L312.95,406.61 L313.18,407.92 L312,407.3 L310.82,407.92 L311.05,406.61 L310.1,405.68 L311.41,405.49Z" fill="#000"/>
<text x="321.9" y="531" font-size="10.2" text-anchor="start">(hpi)</text>
<text x="267.7" y="385" font-size="10.2" text-anchor="middle">M RNA</text>
<rect x="215" y="396.9" width="9.7" height="9.7" fill="none" stroke="#000" stroke-width="2"/>
<text x="232.1" y="404.9" font-size="9.7" text-anchor="start">WT</text>
<rect x="215" y="411.8" width="9.7" height="9.7" fill="none" stroke="#ae1717" stroke-width="2"/>
<text x="230.5" y="419.8" font-size="9.7" text-anchor="start">CCND3 KO</text>
<text transform="translate(183 462.3) rotate(-90)" font-size="10.2" text-anchor="middle">Rel. GTV RNA level</text>
<line x1="383.8" y1="404.7" x2="383.8" y2="520.6" stroke="#000" stroke-width="2" stroke-linecap="butt"/>
<line x1="380.6" y1="519.6" x2="498.8" y2="519.6" stroke="#000" stroke-width="2" stroke-linecap="butt"/>
<line x1="380.6" y1="519.6" x2="383.8" y2="519.6" stroke="#000" stroke-width="2" stroke-linecap="butt"/>
<text x="378.2" y="522.87" font-size="9.2" text-anchor="end">0</text>
<line x1="380.6" y1="481.3" x2="383.8" y2="481.3" stroke="#000" stroke-width="2" stroke-linecap="butt"/>
<text x="378.2" y="484.57" font-size="9.2" text-anchor="end">50</text>
<line x1="380.6" y1="443" x2="383.8" y2="443" stroke="#000" stroke-width="2" stroke-linecap="butt"/>
<text x="378.2" y="446.27" font-size="9.2" text-anchor="end">100</text>
<line x1="380.6" y1="404.7" x2="383.8" y2="404.7" stroke="#000" stroke-width="2" stroke-linecap="butt"/>
<text x="378.2" y="407.97" font-size="9.2" text-anchor="end">150</text>
<line x1="397.7" y1="519.6" x2="397.7" y2="522.8" stroke="#000" stroke-width="2" stroke-linecap="butt"/>
<text x="397.7" y="533.5" font-size="9.2" text-anchor="middle">12</text>
<rect x="388" y="518.72" width="9" height="1.1" fill="#000"/>
<circle cx="392.5" cy="519.22" r="1.1" fill="none" stroke="#8c8c8c" stroke-width="0.8"/>
<path d="M400.2 519.6V517.54H407.2V519.6" fill="none" stroke="#ae1717" stroke-width="2"/>
<line x1="403.7" y1="515.77" x2="403.7" y2="517.3" stroke="#8c8c8c" stroke-width="1" stroke-linecap="butt"/>
<line x1="401.5" y1="515.77" x2="405.9" y2="515.77" stroke="#8c8c8c" stroke-width="1" stroke-linecap="butt"/>
<circle cx="403.7" cy="515.88" r="1.1" fill="none" stroke="#8c8c8c" stroke-width="0.8"/>
<circle cx="403.7" cy="516.46" r="1.1" fill="none" stroke="#8c8c8c" stroke-width="0.8"/>
<circle cx="403.7" cy="517.26" r="1.1" fill="none" stroke="#8c8c8c" stroke-width="0.8"/>
<path d="M392.5 511.9V506.9H403.7V511.9" fill="none" stroke="#000" stroke-width="2"/>
<path d="M394.5,497.3 L395.09,498.49 L396.4,498.68 L395.45,499.61 L395.68,500.92 L394.5,500.3 L393.32,500.92 L393.55,499.61 L392.6,498.68 L393.91,498.49Z M398.1,497.3 L398.69,498.49 L400,498.68 L399.05,499.61 L399.28,500.92 L398.1,500.3 L396.92,500.92 L397.15,499.61 L396.2,498.68 L397.51,498.49Z M401.7,497.3 L402.29,498.49 L403.6,498.68 L402.65,499.61 L402.88,500.92 L401.7,500.3 L400.52,500.92 L400.75,499.61 L399.8,498.68 L401.11,498.49Z" fill="#000"/>
<line x1="426.2" y1="519.6" x2="426.2" y2="522.8" stroke="#000" stroke-width="2" stroke-linecap="butt"/>
<text x="426.2" y="533.5" font-size="9.2" text-anchor="middle">24</text>
<path d="M417.5 519.6V517.92H424.5V519.6" fill="none" stroke="#000" stroke-width="2"/>
<line x1="421" y1="516.15" x2="421" y2="517.69" stroke="#8c8c8c" stroke-width="1" stroke-linecap="butt"/>
<line x1="418.8" y1="516.15" x2="423.2" y2="516.15" stroke="#8c8c8c" stroke-width="1" stroke-linecap="butt"/>
<circle cx="421" cy="516.27" r="1.1" fill="none" stroke="#8c8c8c" stroke-width="0.8"/>
<circle cx="421" cy="516.84" r="1.1" fill="none" stroke="#8c8c8c" stroke-width="0.8"/>
<circle cx="421" cy="517.65" r="1.1" fill="none" stroke="#8c8c8c" stroke-width="0.8"/>
<path d="M428.7 519.6V503.37H435.7V519.6" fill="none" stroke="#ae1717" stroke-width="2"/>
<line x1="432.2" y1="501.98" x2="432.2" y2="502.75" stroke="#8c8c8c" stroke-width="1" stroke-linecap="butt"/>
<line x1="430" y1="501.98" x2="434.4" y2="501.98" stroke="#8c8c8c" stroke-width="1" stroke-linecap="butt"/>
<circle cx="432.2" cy="502.04" r="1.1" fill="none" stroke="#8c8c8c" stroke-width="0.8"/>
<circle cx="432.2" cy="502.33" r="1.1" fill="none" stroke="#8c8c8c" stroke-width="0.8"/>
<circle cx="432.2" cy="502.73" r="1.1" fill="none" stroke="#8c8c8c" stroke-width="0.8"/>
<path d="M421 497.7V492.7H432.2V497.7" fill="none" stroke="#000" stroke-width="2"/>
<path d="M421.2,483.1 L421.79,484.29 L423.1,484.48 L422.15,485.41 L422.38,486.72 L421.2,486.1 L420.02,486.72 L420.25,485.41 L419.3,484.48 L420.61,484.29Z M424.8,483.1 L425.39,484.29 L426.7,484.48 L425.75,485.41 L425.98,486.72 L424.8,486.1 L423.62,486.72 L423.85,485.41 L422.9,484.48 L424.21,484.29Z M428.4,483.1 L428.99,484.29 L430.3,484.48 L429.35,485.41 L429.58,486.72 L428.4,486.1 L427.22,486.72 L427.45,485.41 L426.5,484.48 L427.81,484.29Z M432,483.1 L432.59,484.29 L433.9,484.48 L432.95,485.41 L433.18,486.72 L432,486.1 L430.82,486.72 L431.05,485.41 L430.1,484.48 L431.41,484.29Z" fill="#000"/>
<line x1="454.7" y1="519.6" x2="454.7" y2="522.8" stroke="#000" stroke-width="2" stroke-linecap="butt"/>
<text x="454.7" y="533.5" font-size="9.2" text-anchor="middle">36</text>
<path d="M446 519.6V508.34H453V519.6" fill="none" stroke="#000" stroke-width="2"/>
<line x1="449.5" y1="506.2" x2="449.5" y2="508.49" stroke="#8c8c8c" stroke-width="1" stroke-linecap="butt"/>
<line x1="447.3" y1="506.2" x2="451.7" y2="506.2" stroke="#8c8c8c" stroke-width="1" stroke-linecap="butt"/>
<circle cx="449.5" cy="506.37" r="1.1" fill="none" stroke="#8c8c8c" stroke-width="0.8"/>
<circle cx="449.5" cy="507.23" r="1.1" fill="none" stroke="#8c8c8c" stroke-width="0.8"/>
<circle cx="449.5" cy="508.44" r="1.1" fill="none" stroke="#8c8c8c" stroke-width="0.8"/>
<path d="M457.2 519.6V465.45H464.2V519.6" fill="none" stroke="#ae1717" stroke-width="2"/>
<line x1="460.7" y1="462.15" x2="460.7" y2="466.75" stroke="#8c8c8c" stroke-width="1" stroke-linecap="butt"/>
<line x1="458.5" y1="462.15" x2="462.9" y2="462.15" stroke="#8c8c8c" stroke-width="1" stroke-linecap="butt"/>
<circle cx="460.7" cy="462.49" r="1.1" fill="none" stroke="#8c8c8c" stroke-width="0.8"/>
<circle cx="460.7" cy="464.22" r="1.1" fill="none" stroke="#8c8c8c" stroke-width="0.8"/>
<circle cx="460.7" cy="466.63" r="1.1" fill="none" stroke="#8c8c8c" stroke-width="0.8"/>
<path d="M449.5 459.3V454.3H460.7V459.3" fill="none" stroke="#000" stroke-width="2"/>
<path d="M449.7,444.7 L450.29,445.89 L451.6,446.08 L450.65,447.01 L450.88,448.32 L449.7,447.7 L448.52,448.32 L448.75,447.01 L447.8,446.08 L449.11,445.89Z M453.3,444.7 L453.89,445.89 L455.2,446.08 L454.25,447.01 L454.48,448.32 L453.3,447.7 L452.12,448.32 L452.35,447.01 L451.4,446.08 L452.71,445.89Z M456.9,444.7 L457.49,445.89 L458.8,446.08 L457.85,447.01 L458.08,448.32 L456.9,447.7 L455.72,448.32 L455.95,447.01 L455,446.08 L456.31,445.89Z M460.5,444.7 L461.09,445.89 L462.4,446.08 L461.45,447.01 L461.68,448.32 L460.5,447.7 L459.32,448.32 L459.55,447.01 L458.6,446.08 L459.91,445.89Z" fill="#000"/>
<line x1="483.2" y1="519.6" x2="483.2" y2="522.8" stroke="#000" stroke-width="2" stroke-linecap="butt"/>
<text x="483.2" y="533.5" font-size="9.2" text-anchor="middle">48</text>
<path d="M474.5 519.6V487.66H481.5V519.6" fill="none" stroke="#000" stroke-width="2"/>
<line x1="478" y1="484.36" x2="478" y2="488.96" stroke="#8c8c8c" stroke-width="1" stroke-linecap="butt"/>
<line x1="475.8" y1="484.36" x2="480.2" y2="484.36" stroke="#8c8c8c" stroke-width="1" stroke-linecap="butt"/>
<circle cx="478" cy="484.71" r="1.1" fill="none" stroke="#8c8c8c" stroke-width="0.8"/>
<circle cx="478" cy="486.43" r="1.1" fill="none" stroke="#8c8c8c" stroke-width="0.8"/>
<circle cx="478" cy="488.85" r="1.1" fill="none" stroke="#8c8c8c" stroke-width="0.8"/>
<path d="M485.7 519.6V443.23H492.7V519.6" fill="none" stroke="#ae1717" stroke-width="2"/>
<line x1="489.2" y1="434.57" x2="489.2" y2="449.89" stroke="#8c8c8c" stroke-width="1" stroke-linecap="butt"/>
<line x1="487" y1="434.57" x2="491.4" y2="434.57" stroke="#8c8c8c" stroke-width="1" stroke-linecap="butt"/>
<circle cx="489.2" cy="435.72" r="1.1" fill="none" stroke="#8c8c8c" stroke-width="0.8"/>
<circle cx="489.2" cy="441.47" r="1.1" fill="none" stroke="#8c8c8c" stroke-width="0.8"/>
<circle cx="489.2" cy="449.51" r="1.1" fill="none" stroke="#8c8c8c" stroke-width="0.8"/>
<path d="M478 429.9V424.9H489.2V429.9" fill="none" stroke="#000" stroke-width="2"/>
<path d="M480,414.8 L480.59,415.99 L481.9,416.18 L480.95,417.11 L481.18,418.42 L480,417.8 L478.82,418.42 L479.05,417.11 L478.1,416.18 L479.41,415.99Z M483.6,414.8 L484.19,415.99 L485.5,416.18 L484.55,417.11 L484.78,418.42 L483.6,417.8 L482.42,418.42 L482.65,417.11 L481.7,416.18 L483.01,415.99Z M487.2,414.8 L487.79,415.99 L489.1,416.18 L488.15,417.11 L488.38,418.42 L487.2,417.8 L486.02,418.42 L486.25,417.11 L485.3,416.18 L486.61,415.99Z" fill="#000"/>
<text x="499" y="533.5" font-size="10.2" text-anchor="start">(hpi)</text>
<text x="446" y="388.1" font-size="10.2" text-anchor="middle">S RNA</text>
<rect x="391.3" y="399.2" width="9.7" height="9.7" fill="none" stroke="#000" stroke-width="2"/>
<text x="407.8" y="406.6" font-size="9.7" text-anchor="start">WT</text>
<rect x="391.3" y="414.1" width="9.7" height="9.7" fill="none" stroke="#ae1717" stroke-width="2"/>
<text x="405.6" y="422.4" font-size="9.7" text-anchor="start">CCND3 KO</text>
<text transform="translate(358.5 465) rotate(-90)" font-size="10.2" text-anchor="middle">Rel. GTV RNA level</text>
<line x1="555.5" y1="401.8" x2="555.5" y2="518" stroke="#000" stroke-width="2" stroke-linecap="butt"/>
<line x1="552" y1="517" x2="670.5" y2="517" stroke="#000" stroke-width="2" stroke-linecap="butt"/>
<line x1="552" y1="517" x2="555.5" y2="517" stroke="#000" stroke-width="2" stroke-linecap="butt"/>
<text x="550.3" y="520.73" font-size="10.5" text-anchor="end">4</text>
<line x1="552" y1="488.2" x2="555.5" y2="488.2" stroke="#000" stroke-width="2" stroke-linecap="butt"/>
<text x="550.3" y="491.93" font-size="10.5" text-anchor="end">5</text>
<line x1="552" y1="459.4" x2="555.5" y2="459.4" stroke="#000" stroke-width="2" stroke-linecap="butt"/>
<text x="550.3" y="463.13" font-size="10.5" text-anchor="end">6</text>
<line x1="552" y1="430.6" x2="555.5" y2="430.6" stroke="#000" stroke-width="2" stroke-linecap="butt"/>
<text x="550.3" y="434.33" font-size="10.5" text-anchor="end">7</text>
<line x1="552" y1="401.8" x2="555.5" y2="401.8" stroke="#000" stroke-width="2" stroke-linecap="butt"/>
<text x="550.3" y="405.53" font-size="10.5" text-anchor="end">8</text>
<line x1="572.8" y1="517" x2="572.8" y2="520.5" stroke="#000" stroke-width="2" stroke-linecap="butt"/>
<text x="572.8" y="531" font-size="9.6" text-anchor="middle">12</text>
<line x1="599.25" y1="517" x2="599.25" y2="520.5" stroke="#000" stroke-width="2" stroke-linecap="butt"/>
<text x="599.25" y="531" font-size="9.6" text-anchor="middle">24</text>
<line x1="625.7" y1="517" x2="625.7" y2="520.5" stroke="#000" stroke-width="2" stroke-linecap="butt"/>
<text x="625.7" y="531" font-size="9.6" text-anchor="middle">36</text>
<line x1="652.15" y1="517" x2="652.15" y2="520.5" stroke="#000" stroke-width="2" stroke-linecap="butt"/>
<text x="652.15" y="531" font-size="9.6" text-anchor="middle">48</text>
<text x="664" y="529.4" font-size="9.2" text-anchor="start">(hpi)</text>
<polyline points="572.8,508.36 599.25,490.22 625.7,455.66 652.15,438.66" fill="none" stroke="#1a1aff" stroke-width="2.0" stroke-linejoin="round"/>
<line x1="572.8" y1="505.77" x2="572.8" y2="510.95" stroke="#000" stroke-width="1.2" stroke-linecap="butt"/>
<line x1="570.8" y1="505.77" x2="574.8" y2="505.77" stroke="#000" stroke-width="1.1" stroke-linecap="butt"/>
<line x1="570.8" y1="510.95" x2="574.8" y2="510.95" stroke="#000" stroke-width="1.1" stroke-linecap="butt"/>
<circle cx="572.8" cy="508.36" r="2.5" fill="#000"/>
<line x1="599.25" y1="487.34" x2="599.25" y2="493.1" stroke="#000" stroke-width="1.2" stroke-linecap="butt"/>
<line x1="597.25" y1="487.34" x2="601.25" y2="487.34" stroke="#000" stroke-width="1.1" stroke-linecap="butt"/>
<line x1="597.25" y1="493.1" x2="601.25" y2="493.1" stroke="#000" stroke-width="1.1" stroke-linecap="butt"/>
<circle cx="599.25" cy="490.22" r="2.5" fill="#000"/>
<line x1="625.7" y1="452.2" x2="625.7" y2="459.11" stroke="#000" stroke-width="1.2" stroke-linecap="butt"/>
<line x1="623.7" y1="452.2" x2="627.7" y2="452.2" stroke="#000" stroke-width="1.1" stroke-linecap="butt"/>
<line x1="623.7" y1="459.11" x2="627.7" y2="459.11" stroke="#000" stroke-width="1.1" stroke-linecap="butt"/>
<circle cx="625.7" cy="455.66" r="2.5" fill="#000"/>
<circle cx="652.15" cy="438.66" r="2.5" fill="#000"/>
<polyline points="572.8,499.72 599.25,462.86 625.7,439.24 652.15,411.88" fill="none" stroke="#b01e1e" stroke-width="2.4" stroke-linejoin="round"/>
<rect x="570.7" y="497.62" width="4.2" height="4.2" fill="#b01e1e"/>
<line x1="599.25" y1="459.4" x2="599.25" y2="466.31" stroke="#b01e1e" stroke-width="1.2" stroke-linecap="butt"/>
<line x1="597.25" y1="459.4" x2="601.25" y2="459.4" stroke="#b01e1e" stroke-width="1.1" stroke-linecap="butt"/>
<line x1="597.25" y1="466.31" x2="601.25" y2="466.31" stroke="#b01e1e" stroke-width="1.1" stroke-linecap="butt"/>
<rect x="597.15" y="460.76" width="4.2" height="4.2" fill="#b01e1e"/>
<line x1="625.7" y1="435.78" x2="625.7" y2="442.7" stroke="#b01e1e" stroke-width="1.2" stroke-linecap="butt"/>
<line x1="623.7" y1="435.78" x2="627.7" y2="435.78" stroke="#b01e1e" stroke-width="1.1" stroke-linecap="butt"/>
<line x1="623.7" y1="442.7" x2="627.7" y2="442.7" stroke="#b01e1e" stroke-width="1.1" stroke-linecap="butt"/>
<rect x="623.6" y="437.14" width="4.2" height="4.2" fill="#b01e1e"/>
<line x1="652.15" y1="407.56" x2="652.15" y2="416.2" stroke="#b01e1e" stroke-width="1.2" stroke-linecap="butt"/>
<line x1="650.15" y1="407.56" x2="654.15" y2="407.56" stroke="#b01e1e" stroke-width="1.1" stroke-linecap="butt"/>
<line x1="650.15" y1="416.2" x2="654.15" y2="416.2" stroke="#b01e1e" stroke-width="1.1" stroke-linecap="butt"/>
<rect x="650.05" y="409.78" width="4.2" height="4.2" fill="#b01e1e"/>
<path d="M566.85,485.53 L567.6,487.05 L569.28,487.29 L568.06,488.48 L568.35,490.15 L566.85,489.36 L565.35,490.15 L565.64,488.48 L564.42,487.29 L566.1,487.05Z M571.95,485.53 L572.7,487.05 L574.38,487.29 L573.16,488.48 L573.45,490.15 L571.95,489.36 L570.45,490.15 L570.74,488.48 L569.52,487.29 L571.2,487.05Z" fill="#000"/>
<path d="M593.2,449.83 L593.95,451.35 L595.63,451.59 L594.41,452.78 L594.7,454.45 L593.2,453.66 L591.7,454.45 L591.99,452.78 L590.77,451.59 L592.45,451.35Z M598.3,449.83 L599.05,451.35 L600.73,451.59 L599.51,452.78 L599.8,454.45 L598.3,453.66 L596.8,454.45 L597.09,452.78 L595.87,451.59 L597.55,451.35Z M603.4,449.83 L604.15,451.35 L605.83,451.59 L604.61,452.78 L604.9,454.45 L603.4,453.66 L601.9,454.45 L602.19,452.78 L600.97,451.59 L602.65,451.35Z" fill="#000"/>
<path d="M621.95,426.93 L622.7,428.45 L624.38,428.69 L623.16,429.88 L623.45,431.55 L621.95,430.76 L620.45,431.55 L620.74,429.88 L619.52,428.69 L621.2,428.45Z M627.05,426.93 L627.8,428.45 L629.48,428.69 L628.26,429.88 L628.55,431.55 L627.05,430.76 L625.55,431.55 L625.84,429.88 L624.62,428.69 L626.3,428.45Z" fill="#000"/>
<path d="M647,400.73 L647.75,402.25 L649.43,402.49 L648.21,403.68 L648.5,405.35 L647,404.56 L645.5,405.35 L645.79,403.68 L644.57,402.49 L646.25,402.25Z M652.1,400.73 L652.85,402.25 L654.53,402.49 L653.31,403.68 L653.6,405.35 L652.1,404.56 L650.6,405.35 L650.89,403.68 L649.67,402.49 L651.35,402.25Z M657.2,400.73 L657.95,402.25 L659.63,402.49 L658.41,403.68 L658.7,405.35 L657.2,404.56 L655.7,405.35 L655.99,403.68 L654.77,402.49 L656.45,402.25Z" fill="#000"/>
<line x1="560.2" y1="376.3" x2="580.9" y2="376.3" stroke="#1a1aff" stroke-width="2.3" stroke-linecap="butt"/>
<circle cx="570.55" cy="376.3" r="2.2" fill="#000"/>
<text x="592.5" y="379.7" font-size="9.5" text-anchor="start">WT</text>
<line x1="560.2" y1="389.4" x2="580.9" y2="389.4" stroke="#b01e1e" stroke-width="2.3" stroke-linecap="butt"/>
<rect x="568.55" y="387.4" width="4" height="4" fill="#b01e1e"/>
<text x="592.5" y="392.8" font-size="9.5" text-anchor="start">CCND3 KO</text>
<text transform="translate(536.5 461.7) rotate(-90)" font-size="9.65" text-anchor="middle">GTV titer, log<tspan font-size="7" dy="2.2">10</tspan><tspan dy="-2.2"> (TCID</tspan><tspan font-size="7" dy="2.2">50</tspan><tspan dy="-2.2">/mL)</tspan></text>
<line x1="39.4" y1="578.4" x2="39.4" y2="693.8" stroke="#000" stroke-width="2" stroke-linecap="butt"/>
<line x1="36.2" y1="692.8" x2="154.4" y2="692.8" stroke="#000" stroke-width="2" stroke-linecap="butt"/>
<line x1="36.2" y1="692.8" x2="39.4" y2="692.8" stroke="#000" stroke-width="2" stroke-linecap="butt"/>
<text x="33.8" y="696.07" font-size="9.2" text-anchor="end">0</text>
<line x1="36.2" y1="664.2" x2="39.4" y2="664.2" stroke="#000" stroke-width="2" stroke-linecap="butt"/>
<text x="33.8" y="667.47" font-size="9.2" text-anchor="end">50</text>
<line x1="36.2" y1="635.6" x2="39.4" y2="635.6" stroke="#000" stroke-width="2" stroke-linecap="butt"/>
<text x="33.8" y="638.87" font-size="9.2" text-anchor="end">100</text>
<line x1="36.2" y1="607" x2="39.4" y2="607" stroke="#000" stroke-width="2" stroke-linecap="butt"/>
<text x="33.8" y="610.27" font-size="9.2" text-anchor="end">150</text>
<line x1="36.2" y1="578.4" x2="39.4" y2="578.4" stroke="#000" stroke-width="2" stroke-linecap="butt"/>
<text x="33.8" y="581.67" font-size="9.2" text-anchor="end">200</text>
<line x1="52.9" y1="692.8" x2="52.9" y2="696" stroke="#000" stroke-width="2" stroke-linecap="butt"/>
<text x="52.9" y="706.5" font-size="9.2" text-anchor="middle">12</text>
<rect x="43.2" y="692.01" width="9" height="1.1" fill="#000"/>
<circle cx="47.7" cy="692.51" r="1.1" fill="none" stroke="#8c8c8c" stroke-width="0.8"/>
<rect x="54.4" y="691.73" width="9" height="1.1" fill="#ae1717"/>
<circle cx="58.9" cy="692.23" r="1.1" fill="none" stroke="#8c8c8c" stroke-width="0.8"/>
<path d="M47.7 687.6V682.6H58.9V687.6" fill="none" stroke="#000" stroke-width="2"/>
<path d="M51.5,673 L52.09,674.19 L53.4,674.38 L52.45,675.31 L52.68,676.62 L51.5,676 L50.32,676.62 L50.55,675.31 L49.6,674.38 L50.91,674.19Z M55.1,673 L55.69,674.19 L57,674.38 L56.05,675.31 L56.28,676.62 L55.1,676 L53.92,676.62 L54.15,675.31 L53.2,674.38 L54.51,674.19Z" fill="#000"/>
<line x1="81.4" y1="692.8" x2="81.4" y2="696" stroke="#000" stroke-width="2" stroke-linecap="butt"/>
<text x="81.4" y="706.5" font-size="9.2" text-anchor="middle">24</text>
<path d="M72.7 692.8V690.37H79.7V692.8" fill="none" stroke="#000" stroke-width="2"/>
<line x1="76.2" y1="688.51" x2="76.2" y2="690.23" stroke="#8c8c8c" stroke-width="1" stroke-linecap="butt"/>
<line x1="74" y1="688.51" x2="78.4" y2="688.51" stroke="#8c8c8c" stroke-width="1" stroke-linecap="butt"/>
<circle cx="76.2" cy="688.64" r="1.1" fill="none" stroke="#8c8c8c" stroke-width="0.8"/>
<circle cx="76.2" cy="689.28" r="1.1" fill="none" stroke="#8c8c8c" stroke-width="0.8"/>
<circle cx="76.2" cy="690.18" r="1.1" fill="none" stroke="#8c8c8c" stroke-width="0.8"/>
<path d="M83.9 692.8V676.07H90.9V692.8" fill="none" stroke="#ae1717" stroke-width="2"/>
<line x1="87.4" y1="672.78" x2="87.4" y2="677.36" stroke="#8c8c8c" stroke-width="1" stroke-linecap="butt"/>
<line x1="85.2" y1="672.78" x2="89.6" y2="672.78" stroke="#8c8c8c" stroke-width="1" stroke-linecap="butt"/>
<circle cx="87.4" cy="673.12" r="1.1" fill="none" stroke="#8c8c8c" stroke-width="0.8"/>
<circle cx="87.4" cy="674.84" r="1.1" fill="none" stroke="#8c8c8c" stroke-width="0.8"/>
<circle cx="87.4" cy="677.24" r="1.1" fill="none" stroke="#8c8c8c" stroke-width="0.8"/>
<path d="M76.2 668.7V663.7H87.4V668.7" fill="none" stroke="#000" stroke-width="2"/>
<path d="M78.2,654.1 L78.79,655.29 L80.1,655.48 L79.15,656.41 L79.38,657.72 L78.2,657.1 L77.02,657.72 L77.25,656.41 L76.3,655.48 L77.61,655.29Z M81.8,654.1 L82.39,655.29 L83.7,655.48 L82.75,656.41 L82.98,657.72 L81.8,657.1 L80.62,657.72 L80.85,656.41 L79.9,655.48 L81.21,655.29Z M85.4,654.1 L85.99,655.29 L87.3,655.48 L86.35,656.41 L86.58,657.72 L85.4,657.1 L84.22,657.72 L84.45,656.41 L83.5,655.48 L84.81,655.29Z" fill="#000"/>
<line x1="109.9" y1="692.8" x2="109.9" y2="696" stroke="#000" stroke-width="2" stroke-linecap="butt"/>
<text x="109.9" y="706.5" font-size="9.2" text-anchor="middle">36</text>
<path d="M101.2 692.8V683.5H108.2V692.8" fill="none" stroke="#000" stroke-width="2"/>
<line x1="104.7" y1="681.36" x2="104.7" y2="683.65" stroke="#8c8c8c" stroke-width="1" stroke-linecap="butt"/>
<line x1="102.5" y1="681.36" x2="106.9" y2="681.36" stroke="#8c8c8c" stroke-width="1" stroke-linecap="butt"/>
<circle cx="104.7" cy="681.53" r="1.1" fill="none" stroke="#8c8c8c" stroke-width="0.8"/>
<circle cx="104.7" cy="682.39" r="1.1" fill="none" stroke="#8c8c8c" stroke-width="0.8"/>
<circle cx="104.7" cy="683.59" r="1.1" fill="none" stroke="#8c8c8c" stroke-width="0.8"/>
<path d="M112.4 692.8V661.2H119.4V692.8" fill="none" stroke="#ae1717" stroke-width="2"/>
<line x1="115.9" y1="655.62" x2="115.9" y2="664.77" stroke="#8c8c8c" stroke-width="1" stroke-linecap="butt"/>
<line x1="113.7" y1="655.62" x2="118.1" y2="655.62" stroke="#8c8c8c" stroke-width="1" stroke-linecap="butt"/>
<circle cx="115.9" cy="656.31" r="1.1" fill="none" stroke="#8c8c8c" stroke-width="0.8"/>
<circle cx="115.9" cy="659.74" r="1.1" fill="none" stroke="#8c8c8c" stroke-width="0.8"/>
<circle cx="115.9" cy="664.54" r="1.1" fill="none" stroke="#8c8c8c" stroke-width="0.8"/>
<path d="M104.7 651.6V646.6H115.9V651.6" fill="none" stroke="#000" stroke-width="2"/>
<path d="M108.5,637 L109.09,638.19 L110.4,638.38 L109.45,639.31 L109.68,640.62 L108.5,640 L107.32,640.62 L107.55,639.31 L106.6,638.38 L107.91,638.19Z M112.1,637 L112.69,638.19 L114,638.38 L113.05,639.31 L113.28,640.62 L112.1,640 L110.92,640.62 L111.15,639.31 L110.2,638.38 L111.51,638.19Z" fill="#000"/>
<line x1="138.4" y1="692.8" x2="138.4" y2="696" stroke="#000" stroke-width="2" stroke-linecap="butt"/>
<text x="138.4" y="706.5" font-size="9.2" text-anchor="middle">48</text>
<path d="M129.7 692.8V649.76H136.7V692.8" fill="none" stroke="#000" stroke-width="2"/>
<line x1="133.2" y1="647.04" x2="133.2" y2="650.47" stroke="#8c8c8c" stroke-width="1" stroke-linecap="butt"/>
<line x1="131" y1="647.04" x2="135.4" y2="647.04" stroke="#8c8c8c" stroke-width="1" stroke-linecap="butt"/>
<circle cx="133.2" cy="647.3" r="1.1" fill="none" stroke="#8c8c8c" stroke-width="0.8"/>
<circle cx="133.2" cy="648.58" r="1.1" fill="none" stroke="#8c8c8c" stroke-width="0.8"/>
<circle cx="133.2" cy="650.39" r="1.1" fill="none" stroke="#8c8c8c" stroke-width="0.8"/>
<path d="M140.9 692.8V601.14H147.9V692.8" fill="none" stroke="#ae1717" stroke-width="2"/>
<line x1="144.4" y1="590.41" x2="144.4" y2="609.86" stroke="#8c8c8c" stroke-width="1" stroke-linecap="butt"/>
<line x1="142.2" y1="590.41" x2="146.6" y2="590.41" stroke="#8c8c8c" stroke-width="1" stroke-linecap="butt"/>
<circle cx="144.4" cy="591.87" r="1.1" fill="none" stroke="#8c8c8c" stroke-width="0.8"/>
<circle cx="144.4" cy="599.16" r="1.1" fill="none" stroke="#8c8c8c" stroke-width="0.8"/>
<circle cx="144.4" cy="609.37" r="1.1" fill="none" stroke="#8c8c8c" stroke-width="0.8"/>
<path d="M133.2 586.7V581.7H144.4V586.7" fill="none" stroke="#000" stroke-width="2"/>
<path d="M135.2,572.1 L135.79,573.29 L137.1,573.48 L136.15,574.41 L136.38,575.72 L135.2,575.1 L134.02,575.72 L134.25,574.41 L133.3,573.48 L134.61,573.29Z M138.8,572.1 L139.39,573.29 L140.7,573.48 L139.75,574.41 L139.98,575.72 L138.8,575.1 L137.62,575.72 L137.85,574.41 L136.9,573.48 L138.21,573.29Z M142.4,572.1 L142.99,573.29 L144.3,573.48 L143.35,574.41 L143.58,575.72 L142.4,575.1 L141.22,575.72 L141.45,574.41 L140.5,573.48 L141.81,573.29Z" fill="#000"/>
<text x="152.4" y="706.5" font-size="10.2" text-anchor="start">(hpi)</text>
<text x="99" y="560.7" font-size="10.2" text-anchor="middle">L RNA</text>
<rect x="47.1" y="572.1" width="9.7" height="9.7" fill="none" stroke="#000" stroke-width="2"/>
<text x="65.1" y="580.8" font-size="9.7" text-anchor="start">WT</text>
<rect x="47.1" y="587" width="9.7" height="9.7" fill="none" stroke="#ae1717" stroke-width="2"/>
<text x="64.8" y="595.9" font-size="9.7" text-anchor="start">CCND3 KO</text>
<text transform="translate(14.3 637.7) rotate(-90)" font-size="10.2" text-anchor="middle">Rel. HRTV RNA level</text>
<line x1="207.2" y1="578.4" x2="207.2" y2="693.8" stroke="#000" stroke-width="2" stroke-linecap="butt"/>
<line x1="204" y1="692.8" x2="322.2" y2="692.8" stroke="#000" stroke-width="2" stroke-linecap="butt"/>
<line x1="204" y1="692.8" x2="207.2" y2="692.8" stroke="#000" stroke-width="2" stroke-linecap="butt"/>
<text x="201.6" y="696.07" font-size="9.2" text-anchor="end">0</text>
<line x1="204" y1="664.2" x2="207.2" y2="664.2" stroke="#000" stroke-width="2" stroke-linecap="butt"/>
<text x="201.6" y="667.47" font-size="9.2" text-anchor="end">50</text>
<line x1="204" y1="635.6" x2="207.2" y2="635.6" stroke="#000" stroke-width="2" stroke-linecap="butt"/>
<text x="201.6" y="638.87" font-size="9.2" text-anchor="end">100</text>
<line x1="204" y1="607" x2="207.2" y2="607" stroke="#000" stroke-width="2" stroke-linecap="butt"/>
<text x="201.6" y="610.27" font-size="9.2" text-anchor="end">150</text>
<line x1="204" y1="578.4" x2="207.2" y2="578.4" stroke="#000" stroke-width="2" stroke-linecap="butt"/>
<text x="201.6" y="581.67" font-size="9.2" text-anchor="end">200</text>
<line x1="220.7" y1="692.8" x2="220.7" y2="696" stroke="#000" stroke-width="2" stroke-linecap="butt"/>
<text x="220.7" y="706.5" font-size="9.2" text-anchor="middle">12</text>
<rect x="211" y="692.01" width="9" height="1.1" fill="#000"/>
<circle cx="215.5" cy="692.51" r="1.1" fill="none" stroke="#8c8c8c" stroke-width="0.8"/>
<rect x="222.2" y="691.73" width="9" height="1.1" fill="#ae1717"/>
<circle cx="226.7" cy="692.23" r="1.1" fill="none" stroke="#8c8c8c" stroke-width="0.8"/>
<path d="M215.5 685.8V680.8H226.7V685.8" fill="none" stroke="#000" stroke-width="2"/>
<path d="M217.5,671.7 L218.09,672.89 L219.4,673.08 L218.45,674.01 L218.68,675.32 L217.5,674.7 L216.32,675.32 L216.55,674.01 L215.6,673.08 L216.91,672.89Z M221.1,671.7 L221.69,672.89 L223,673.08 L222.05,674.01 L222.28,675.32 L221.1,674.7 L219.92,675.32 L220.15,674.01 L219.2,673.08 L220.51,672.89Z M224.7,671.7 L225.29,672.89 L226.6,673.08 L225.65,674.01 L225.88,675.32 L224.7,674.7 L223.52,675.32 L223.75,674.01 L222.8,673.08 L224.11,672.89Z" fill="#000"/>
<line x1="249.2" y1="692.8" x2="249.2" y2="696" stroke="#000" stroke-width="2" stroke-linecap="butt"/>
<text x="249.2" y="706.5" font-size="9.2" text-anchor="middle">24</text>
<rect x="239.5" y="690.58" width="9" height="2.22" fill="#000"/>
<line x1="244" y1="690.51" x2="244" y2="691.66" stroke="#8c8c8c" stroke-width="1" stroke-linecap="butt"/>
<line x1="241.8" y1="690.51" x2="246.2" y2="690.51" stroke="#8c8c8c" stroke-width="1" stroke-linecap="butt"/>
<circle cx="244" cy="690.6" r="1.1" fill="none" stroke="#8c8c8c" stroke-width="0.8"/>
<circle cx="244" cy="691.03" r="1.1" fill="none" stroke="#8c8c8c" stroke-width="0.8"/>
<circle cx="244" cy="691.63" r="1.1" fill="none" stroke="#8c8c8c" stroke-width="0.8"/>
<path d="M251.7 692.8V682.36H258.7V692.8" fill="none" stroke="#ae1717" stroke-width="2"/>
<line x1="255.2" y1="679.64" x2="255.2" y2="683.08" stroke="#8c8c8c" stroke-width="1" stroke-linecap="butt"/>
<line x1="253" y1="679.64" x2="257.4" y2="679.64" stroke="#8c8c8c" stroke-width="1" stroke-linecap="butt"/>
<circle cx="255.2" cy="679.9" r="1.1" fill="none" stroke="#8c8c8c" stroke-width="0.8"/>
<circle cx="255.2" cy="681.19" r="1.1" fill="none" stroke="#8c8c8c" stroke-width="0.8"/>
<circle cx="255.2" cy="682.99" r="1.1" fill="none" stroke="#8c8c8c" stroke-width="0.8"/>
<path d="M244 675.3V670.3H255.2V675.3" fill="none" stroke="#000" stroke-width="2"/>
<path d="M246,660.7 L246.59,661.89 L247.9,662.08 L246.95,663.01 L247.18,664.32 L246,663.7 L244.82,664.32 L245.05,663.01 L244.1,662.08 L245.41,661.89Z M249.6,660.7 L250.19,661.89 L251.5,662.08 L250.55,663.01 L250.78,664.32 L249.6,663.7 L248.42,664.32 L248.65,663.01 L247.7,662.08 L249.01,661.89Z M253.2,660.7 L253.79,661.89 L255.1,662.08 L254.15,663.01 L254.38,664.32 L253.2,663.7 L252.02,664.32 L252.25,663.01 L251.3,662.08 L252.61,661.89Z" fill="#000"/>
<line x1="277.7" y1="692.8" x2="277.7" y2="696" stroke="#000" stroke-width="2" stroke-linecap="butt"/>
<text x="277.7" y="706.5" font-size="9.2" text-anchor="middle">36</text>
<path d="M269 692.8V687.51H276V692.8" fill="none" stroke="#000" stroke-width="2"/>
<line x1="272.5" y1="685.36" x2="272.5" y2="687.65" stroke="#8c8c8c" stroke-width="1" stroke-linecap="butt"/>
<line x1="270.3" y1="685.36" x2="274.7" y2="685.36" stroke="#8c8c8c" stroke-width="1" stroke-linecap="butt"/>
<circle cx="272.5" cy="685.54" r="1.1" fill="none" stroke="#8c8c8c" stroke-width="0.8"/>
<circle cx="272.5" cy="686.39" r="1.1" fill="none" stroke="#8c8c8c" stroke-width="0.8"/>
<circle cx="272.5" cy="687.59" r="1.1" fill="none" stroke="#8c8c8c" stroke-width="0.8"/>
<path d="M280.2 692.8V666.63H287.2V692.8" fill="none" stroke="#ae1717" stroke-width="2"/>
<line x1="283.7" y1="663.91" x2="283.7" y2="667.35" stroke="#8c8c8c" stroke-width="1" stroke-linecap="butt"/>
<line x1="281.5" y1="663.91" x2="285.9" y2="663.91" stroke="#8c8c8c" stroke-width="1" stroke-linecap="butt"/>
<circle cx="283.7" cy="664.17" r="1.1" fill="none" stroke="#8c8c8c" stroke-width="0.8"/>
<circle cx="283.7" cy="665.46" r="1.1" fill="none" stroke="#8c8c8c" stroke-width="0.8"/>
<circle cx="283.7" cy="667.26" r="1.1" fill="none" stroke="#8c8c8c" stroke-width="0.8"/>
<path d="M272.5 660.3V655.3H283.7V660.3" fill="none" stroke="#000" stroke-width="2"/>
<path d="M272.7,645.7 L273.29,646.89 L274.6,647.08 L273.65,648.01 L273.88,649.32 L272.7,648.7 L271.52,649.32 L271.75,648.01 L270.8,647.08 L272.11,646.89Z M276.3,645.7 L276.89,646.89 L278.2,647.08 L277.25,648.01 L277.48,649.32 L276.3,648.7 L275.12,649.32 L275.35,648.01 L274.4,647.08 L275.71,646.89Z M279.9,645.7 L280.49,646.89 L281.8,647.08 L280.85,648.01 L281.08,649.32 L279.9,648.7 L278.72,649.32 L278.95,648.01 L278,647.08 L279.31,646.89Z M283.5,645.7 L284.09,646.89 L285.4,647.08 L284.45,648.01 L284.68,649.32 L283.5,648.7 L282.32,649.32 L282.55,648.01 L281.6,647.08 L282.91,646.89Z" fill="#000"/>
<line x1="306.2" y1="692.8" x2="306.2" y2="696" stroke="#000" stroke-width="2" stroke-linecap="butt"/>
<text x="306.2" y="706.5" font-size="9.2" text-anchor="middle">48</text>
<path d="M297.5 692.8V663.48H304.5V692.8" fill="none" stroke="#000" stroke-width="2"/>
<line x1="301" y1="661.34" x2="301" y2="663.63" stroke="#8c8c8c" stroke-width="1" stroke-linecap="butt"/>
<line x1="298.8" y1="661.34" x2="303.2" y2="661.34" stroke="#8c8c8c" stroke-width="1" stroke-linecap="butt"/>
<circle cx="301" cy="661.51" r="1.1" fill="none" stroke="#8c8c8c" stroke-width="0.8"/>
<circle cx="301" cy="662.37" r="1.1" fill="none" stroke="#8c8c8c" stroke-width="0.8"/>
<circle cx="301" cy="663.57" r="1.1" fill="none" stroke="#8c8c8c" stroke-width="0.8"/>
<path d="M308.7 692.8V619.73H315.7V692.8" fill="none" stroke="#ae1717" stroke-width="2"/>
<line x1="312.2" y1="609" x2="312.2" y2="628.45" stroke="#8c8c8c" stroke-width="1" stroke-linecap="butt"/>
<line x1="310" y1="609" x2="314.4" y2="609" stroke="#8c8c8c" stroke-width="1" stroke-linecap="butt"/>
<circle cx="312.2" cy="610.46" r="1.1" fill="none" stroke="#8c8c8c" stroke-width="0.8"/>
<circle cx="312.2" cy="617.75" r="1.1" fill="none" stroke="#8c8c8c" stroke-width="0.8"/>
<circle cx="312.2" cy="627.96" r="1.1" fill="none" stroke="#8c8c8c" stroke-width="0.8"/>
<path d="M301 604.8V599.8H312.2V604.8" fill="none" stroke="#000" stroke-width="2"/>
<path d="M304.8,590.3 L305.39,591.49 L306.7,591.68 L305.75,592.61 L305.98,593.92 L304.8,593.3 L303.62,593.92 L303.85,592.61 L302.9,591.68 L304.21,591.49Z M308.4,590.3 L308.99,591.49 L310.3,591.68 L309.35,592.61 L309.58,593.92 L308.4,593.3 L307.22,593.92 L307.45,592.61 L306.5,591.68 L307.81,591.49Z" fill="#000"/>
<text x="321.9" y="706.5" font-size="10.2" text-anchor="start">(hpi)</text>
<text x="272.5" y="560.7" font-size="10.2" text-anchor="middle">M RNA</text>
<rect x="215" y="572.1" width="9.7" height="9.7" fill="none" stroke="#000" stroke-width="2"/>
<text x="229.1" y="580.8" font-size="9.7" text-anchor="start">WT</text>
<rect x="215" y="587" width="9.7" height="9.7" fill="none" stroke="#ae1717" stroke-width="2"/>
<text x="228.8" y="595.4" font-size="9.7" text-anchor="start">CCND3 KO</text>
<text transform="translate(183 638.5) rotate(-90)" font-size="10.2" text-anchor="middle">Rel. HRTV RNA level</text>
<line x1="381.2" y1="580.8" x2="381.2" y2="695.8" stroke="#000" stroke-width="2" stroke-linecap="butt"/>
<line x1="378" y1="694.8" x2="496.2" y2="694.8" stroke="#000" stroke-width="2" stroke-linecap="butt"/>
<line x1="378" y1="694.8" x2="381.2" y2="694.8" stroke="#000" stroke-width="2" stroke-linecap="butt"/>
<text x="375.6" y="698.07" font-size="9.2" text-anchor="end">0</text>
<line x1="378" y1="666.3" x2="381.2" y2="666.3" stroke="#000" stroke-width="2" stroke-linecap="butt"/>
<text x="375.6" y="669.57" font-size="9.2" text-anchor="end">10</text>
<line x1="378" y1="637.8" x2="381.2" y2="637.8" stroke="#000" stroke-width="2" stroke-linecap="butt"/>
<text x="375.6" y="641.07" font-size="9.2" text-anchor="end">20</text>
<line x1="378" y1="609.3" x2="381.2" y2="609.3" stroke="#000" stroke-width="2" stroke-linecap="butt"/>
<text x="375.6" y="612.57" font-size="9.2" text-anchor="end">30</text>
<line x1="378" y1="580.8" x2="381.2" y2="580.8" stroke="#000" stroke-width="2" stroke-linecap="butt"/>
<text x="375.6" y="584.07" font-size="9.2" text-anchor="end">40</text>
<line x1="395" y1="694.8" x2="395" y2="698" stroke="#000" stroke-width="2" stroke-linecap="butt"/>
<text x="395" y="708.5" font-size="9.2" text-anchor="middle">12</text>
<rect x="385.3" y="692.88" width="9" height="1.92" fill="#000"/>
<line x1="389.8" y1="692.8" x2="389.8" y2="693.94" stroke="#8c8c8c" stroke-width="1" stroke-linecap="butt"/>
<line x1="387.6" y1="692.8" x2="392" y2="692.8" stroke="#8c8c8c" stroke-width="1" stroke-linecap="butt"/>
<circle cx="389.8" cy="692.89" r="1.1" fill="none" stroke="#8c8c8c" stroke-width="0.8"/>
<circle cx="389.8" cy="693.32" r="1.1" fill="none" stroke="#8c8c8c" stroke-width="0.8"/>
<circle cx="389.8" cy="693.92" r="1.1" fill="none" stroke="#8c8c8c" stroke-width="0.8"/>
<path d="M397.5 694.8V683.83H404.5V694.8" fill="none" stroke="#ae1717" stroke-width="2"/>
<line x1="401" y1="681.97" x2="401" y2="683.68" stroke="#8c8c8c" stroke-width="1" stroke-linecap="butt"/>
<line x1="398.8" y1="681.97" x2="403.2" y2="681.97" stroke="#8c8c8c" stroke-width="1" stroke-linecap="butt"/>
<circle cx="401" cy="682.1" r="1.1" fill="none" stroke="#8c8c8c" stroke-width="0.8"/>
<circle cx="401" cy="682.74" r="1.1" fill="none" stroke="#8c8c8c" stroke-width="0.8"/>
<circle cx="401" cy="683.64" r="1.1" fill="none" stroke="#8c8c8c" stroke-width="0.8"/>
<path d="M389.8 678.7V673.7H401V678.7" fill="none" stroke="#000" stroke-width="2"/>
<path d="M393.6,663.8 L394.19,664.99 L395.5,665.18 L394.55,666.11 L394.78,667.42 L393.6,666.8 L392.42,667.42 L392.65,666.11 L391.7,665.18 L393.01,664.99Z M397.2,663.8 L397.79,664.99 L399.1,665.18 L398.15,666.11 L398.38,667.42 L397.2,666.8 L396.02,667.42 L396.25,666.11 L395.3,665.18 L396.61,664.99Z" fill="#000"/>
<line x1="423.5" y1="694.8" x2="423.5" y2="698" stroke="#000" stroke-width="2" stroke-linecap="butt"/>
<text x="423.5" y="708.5" font-size="9.2" text-anchor="middle">24</text>
<path d="M414.8 694.8V692.38H421.8V694.8" fill="none" stroke="#000" stroke-width="2"/>
<line x1="418.3" y1="690.52" x2="418.3" y2="692.23" stroke="#8c8c8c" stroke-width="1" stroke-linecap="butt"/>
<line x1="416.1" y1="690.52" x2="420.5" y2="690.52" stroke="#8c8c8c" stroke-width="1" stroke-linecap="butt"/>
<circle cx="418.3" cy="690.65" r="1.1" fill="none" stroke="#8c8c8c" stroke-width="0.8"/>
<circle cx="418.3" cy="691.29" r="1.1" fill="none" stroke="#8c8c8c" stroke-width="0.8"/>
<circle cx="418.3" cy="692.19" r="1.1" fill="none" stroke="#8c8c8c" stroke-width="0.8"/>
<path d="M426 694.8V651.62H433V694.8" fill="none" stroke="#ae1717" stroke-width="2"/>
<line x1="429.5" y1="642.64" x2="429.5" y2="658.6" stroke="#8c8c8c" stroke-width="1" stroke-linecap="butt"/>
<line x1="427.3" y1="642.64" x2="431.7" y2="642.64" stroke="#8c8c8c" stroke-width="1" stroke-linecap="butt"/>
<circle cx="429.5" cy="643.84" r="1.1" fill="none" stroke="#8c8c8c" stroke-width="0.8"/>
<circle cx="429.5" cy="649.83" r="1.1" fill="none" stroke="#8c8c8c" stroke-width="0.8"/>
<circle cx="429.5" cy="658.21" r="1.1" fill="none" stroke="#8c8c8c" stroke-width="0.8"/>
<path d="M418.3 637.2V632.2H429.5V637.2" fill="none" stroke="#000" stroke-width="2"/>
<path d="M420.3,622.6 L420.89,623.79 L422.2,623.98 L421.25,624.91 L421.48,626.22 L420.3,625.6 L419.12,626.22 L419.35,624.91 L418.4,623.98 L419.71,623.79Z M423.9,622.6 L424.49,623.79 L425.8,623.98 L424.85,624.91 L425.08,626.22 L423.9,625.6 L422.72,626.22 L422.95,624.91 L422,623.98 L423.31,623.79Z M427.5,622.6 L428.09,623.79 L429.4,623.98 L428.45,624.91 L428.68,626.22 L427.5,625.6 L426.32,626.22 L426.55,624.91 L425.6,623.98 L426.91,623.79Z" fill="#000"/>
<line x1="452" y1="694.8" x2="452" y2="698" stroke="#000" stroke-width="2" stroke-linecap="butt"/>
<text x="452" y="708.5" font-size="9.2" text-anchor="middle">36</text>
<path d="M443.3 694.8V690.1H450.3V694.8" fill="none" stroke="#000" stroke-width="2"/>
<line x1="446.8" y1="688.25" x2="446.8" y2="689.95" stroke="#8c8c8c" stroke-width="1" stroke-linecap="butt"/>
<line x1="444.6" y1="688.25" x2="449" y2="688.25" stroke="#8c8c8c" stroke-width="1" stroke-linecap="butt"/>
<circle cx="446.8" cy="688.37" r="1.1" fill="none" stroke="#8c8c8c" stroke-width="0.8"/>
<circle cx="446.8" cy="689.01" r="1.1" fill="none" stroke="#8c8c8c" stroke-width="0.8"/>
<circle cx="446.8" cy="689.91" r="1.1" fill="none" stroke="#8c8c8c" stroke-width="0.8"/>
<path d="M454.5 694.8V639.65H461.5V694.8" fill="none" stroke="#ae1717" stroke-width="2"/>
<line x1="458" y1="626.68" x2="458" y2="650.62" stroke="#8c8c8c" stroke-width="1" stroke-linecap="butt"/>
<line x1="455.8" y1="626.68" x2="460.2" y2="626.68" stroke="#8c8c8c" stroke-width="1" stroke-linecap="butt"/>
<circle cx="458" cy="628.48" r="1.1" fill="none" stroke="#8c8c8c" stroke-width="0.8"/>
<circle cx="458" cy="637.46" r="1.1" fill="none" stroke="#8c8c8c" stroke-width="0.8"/>
<circle cx="458" cy="650.03" r="1.1" fill="none" stroke="#8c8c8c" stroke-width="0.8"/>
<path d="M446.8 624V619H458V624" fill="none" stroke="#000" stroke-width="2"/>
<path d="M450.6,610 L451.19,611.19 L452.5,611.38 L451.55,612.31 L451.78,613.62 L450.6,613 L449.42,613.62 L449.65,612.31 L448.7,611.38 L450.01,611.19Z M454.2,610 L454.79,611.19 L456.1,611.38 L455.15,612.31 L455.38,613.62 L454.2,613 L453.02,613.62 L453.25,612.31 L452.3,611.38 L453.61,611.19Z" fill="#000"/>
<line x1="480.5" y1="694.8" x2="480.5" y2="698" stroke="#000" stroke-width="2" stroke-linecap="butt"/>
<text x="480.5" y="708.5" font-size="9.2" text-anchor="middle">48</text>
<path d="M471.8 694.8V669.58H478.8V694.8" fill="none" stroke="#000" stroke-width="2"/>
<line x1="475.3" y1="665.16" x2="475.3" y2="672" stroke="#8c8c8c" stroke-width="1" stroke-linecap="butt"/>
<line x1="473.1" y1="665.16" x2="477.5" y2="665.16" stroke="#8c8c8c" stroke-width="1" stroke-linecap="butt"/>
<circle cx="475.3" cy="665.67" r="1.1" fill="none" stroke="#8c8c8c" stroke-width="0.8"/>
<circle cx="475.3" cy="668.24" r="1.1" fill="none" stroke="#8c8c8c" stroke-width="0.8"/>
<circle cx="475.3" cy="671.83" r="1.1" fill="none" stroke="#8c8c8c" stroke-width="0.8"/>
<path d="M483 694.8V608.3H490V694.8" fill="none" stroke="#ae1717" stroke-width="2"/>
<line x1="486.5" y1="596.47" x2="486.5" y2="618.13" stroke="#8c8c8c" stroke-width="1" stroke-linecap="butt"/>
<line x1="484.3" y1="596.47" x2="488.7" y2="596.47" stroke="#8c8c8c" stroke-width="1" stroke-linecap="butt"/>
<circle cx="486.5" cy="598.1" r="1.1" fill="none" stroke="#8c8c8c" stroke-width="0.8"/>
<circle cx="486.5" cy="606.22" r="1.1" fill="none" stroke="#8c8c8c" stroke-width="0.8"/>
<circle cx="486.5" cy="617.59" r="1.1" fill="none" stroke="#8c8c8c" stroke-width="0.8"/>
<path d="M475.3 593V588H486.5V593" fill="none" stroke="#000" stroke-width="2"/>
<path d="M480.9,578.4 L481.49,579.59 L482.8,579.78 L481.85,580.71 L482.08,582.02 L480.9,581.4 L479.72,582.02 L479.95,580.71 L479,579.78 L480.31,579.59Z" fill="#000"/>
<text x="495" y="708" font-size="10.2" text-anchor="start">(hpi)</text>
<text x="438.5" y="562.5" font-size="10.2" text-anchor="middle">S RNA</text>
<rect x="389" y="573" width="9.7" height="9.7" fill="none" stroke="#000" stroke-width="2"/>
<text x="406.4" y="579.9" font-size="9.7" text-anchor="start">WT</text>
<rect x="389" y="587.3" width="9.7" height="9.7" fill="none" stroke="#ae1717" stroke-width="2"/>
<text x="406" y="595.7" font-size="9.7" text-anchor="start">CCND3 KO</text>
<text transform="translate(362 640.5) rotate(-90)" font-size="10.2" text-anchor="middle">Rel. HRTV RNA level</text>
<line x1="556" y1="579.5" x2="556" y2="695" stroke="#000" stroke-width="2" stroke-linecap="butt"/>
<line x1="552.5" y1="694" x2="670.5" y2="694" stroke="#000" stroke-width="2" stroke-linecap="butt"/>
<line x1="552.5" y1="694" x2="556" y2="694" stroke="#000" stroke-width="2" stroke-linecap="butt"/>
<text x="550.8" y="697.73" font-size="10.5" text-anchor="end">4</text>
<line x1="552.5" y1="671.1" x2="556" y2="671.1" stroke="#000" stroke-width="2" stroke-linecap="butt"/>
<text x="550.8" y="674.83" font-size="10.5" text-anchor="end">5</text>
<line x1="552.5" y1="648.2" x2="556" y2="648.2" stroke="#000" stroke-width="2" stroke-linecap="butt"/>
<text x="550.8" y="651.93" font-size="10.5" text-anchor="end">6</text>
<line x1="552.5" y1="625.3" x2="556" y2="625.3" stroke="#000" stroke-width="2" stroke-linecap="butt"/>
<text x="550.8" y="629.03" font-size="10.5" text-anchor="end">7</text>
<line x1="552.5" y1="602.4" x2="556" y2="602.4" stroke="#000" stroke-width="2" stroke-linecap="butt"/>
<text x="550.8" y="606.13" font-size="10.5" text-anchor="end">8</text>
<line x1="552.5" y1="579.5" x2="556" y2="579.5" stroke="#000" stroke-width="2" stroke-linecap="butt"/>
<text x="550.8" y="583.23" font-size="10.5" text-anchor="end">9</text>
<line x1="573.3" y1="694" x2="573.3" y2="697.5" stroke="#000" stroke-width="2" stroke-linecap="butt"/>
<text x="573.3" y="707.3" font-size="9.6" text-anchor="middle">12</text>
<line x1="599.75" y1="694" x2="599.75" y2="697.5" stroke="#000" stroke-width="2" stroke-linecap="butt"/>
<text x="599.75" y="707.3" font-size="9.6" text-anchor="middle">24</text>
<line x1="626.2" y1="694" x2="626.2" y2="697.5" stroke="#000" stroke-width="2" stroke-linecap="butt"/>
<text x="626.2" y="707.3" font-size="9.6" text-anchor="middle">36</text>
<line x1="652.65" y1="694" x2="652.65" y2="697.5" stroke="#000" stroke-width="2" stroke-linecap="butt"/>
<text x="652.65" y="707.3" font-size="9.6" text-anchor="middle">48</text>
<text x="665.3" y="705.9" font-size="9.2" text-anchor="start">(hpi)</text>
<polyline points="573.3,687.13 599.75,658.5 626.2,631.02 652.65,615.68" fill="none" stroke="#1a1aff" stroke-width="2.0" stroke-linejoin="round"/>
<line x1="573.3" y1="684.84" x2="573.3" y2="689.42" stroke="#000" stroke-width="1.2" stroke-linecap="butt"/>
<line x1="571.3" y1="684.84" x2="575.3" y2="684.84" stroke="#000" stroke-width="1.1" stroke-linecap="butt"/>
<line x1="571.3" y1="689.42" x2="575.3" y2="689.42" stroke="#000" stroke-width="1.1" stroke-linecap="butt"/>
<circle cx="573.3" cy="687.13" r="2.5" fill="#000"/>
<line x1="599.75" y1="657.82" x2="599.75" y2="659.19" stroke="#000" stroke-width="1.2" stroke-linecap="butt"/>
<line x1="597.75" y1="657.82" x2="601.75" y2="657.82" stroke="#000" stroke-width="1.1" stroke-linecap="butt"/>
<line x1="597.75" y1="659.19" x2="601.75" y2="659.19" stroke="#000" stroke-width="1.1" stroke-linecap="butt"/>
<circle cx="599.75" cy="658.5" r="2.5" fill="#000"/>
<line x1="626.2" y1="629.19" x2="626.2" y2="632.86" stroke="#000" stroke-width="1.2" stroke-linecap="butt"/>
<line x1="624.2" y1="629.19" x2="628.2" y2="629.19" stroke="#000" stroke-width="1.1" stroke-linecap="butt"/>
<line x1="624.2" y1="632.86" x2="628.2" y2="632.86" stroke="#000" stroke-width="1.1" stroke-linecap="butt"/>
<circle cx="626.2" cy="631.02" r="2.5" fill="#000"/>
<line x1="652.65" y1="614.31" x2="652.65" y2="617.06" stroke="#000" stroke-width="1.2" stroke-linecap="butt"/>
<line x1="650.65" y1="614.31" x2="654.65" y2="614.31" stroke="#000" stroke-width="1.1" stroke-linecap="butt"/>
<line x1="650.65" y1="617.06" x2="654.65" y2="617.06" stroke="#000" stroke-width="1.1" stroke-linecap="butt"/>
<circle cx="652.65" cy="615.68" r="2.5" fill="#000"/>
<polyline points="573.3,677.97 599.75,627.59 626.2,604 652.65,587.97" fill="none" stroke="#b01e1e" stroke-width="2.4" stroke-linejoin="round"/>
<line x1="573.3" y1="675.22" x2="573.3" y2="680.72" stroke="#b01e1e" stroke-width="1.2" stroke-linecap="butt"/>
<line x1="571.3" y1="675.22" x2="575.3" y2="675.22" stroke="#b01e1e" stroke-width="1.1" stroke-linecap="butt"/>
<line x1="571.3" y1="680.72" x2="575.3" y2="680.72" stroke="#b01e1e" stroke-width="1.1" stroke-linecap="butt"/>
<rect x="571.2" y="675.87" width="4.2" height="4.2" fill="#b01e1e"/>
<line x1="599.75" y1="626.22" x2="599.75" y2="628.96" stroke="#b01e1e" stroke-width="1.2" stroke-linecap="butt"/>
<line x1="597.75" y1="626.22" x2="601.75" y2="626.22" stroke="#b01e1e" stroke-width="1.1" stroke-linecap="butt"/>
<line x1="597.75" y1="628.96" x2="601.75" y2="628.96" stroke="#b01e1e" stroke-width="1.1" stroke-linecap="butt"/>
<rect x="597.65" y="625.49" width="4.2" height="4.2" fill="#b01e1e"/>
<line x1="626.2" y1="602.17" x2="626.2" y2="605.84" stroke="#b01e1e" stroke-width="1.2" stroke-linecap="butt"/>
<line x1="624.2" y1="602.17" x2="628.2" y2="602.17" stroke="#b01e1e" stroke-width="1.1" stroke-linecap="butt"/>
<line x1="624.2" y1="605.84" x2="628.2" y2="605.84" stroke="#b01e1e" stroke-width="1.1" stroke-linecap="butt"/>
<rect x="624.1" y="601.9" width="4.2" height="4.2" fill="#b01e1e"/>
<line x1="652.65" y1="587.06" x2="652.65" y2="588.89" stroke="#b01e1e" stroke-width="1.2" stroke-linecap="butt"/>
<line x1="650.65" y1="587.06" x2="654.65" y2="587.06" stroke="#b01e1e" stroke-width="1.1" stroke-linecap="butt"/>
<line x1="650.65" y1="588.89" x2="654.65" y2="588.89" stroke="#b01e1e" stroke-width="1.1" stroke-linecap="butt"/>
<rect x="650.55" y="585.87" width="4.2" height="4.2" fill="#b01e1e"/>
<path d="M568,666.33 L568.75,667.85 L570.43,668.09 L569.21,669.28 L569.5,670.95 L568,670.16 L566.5,670.95 L566.79,669.28 L565.57,668.09 L567.25,667.85Z" fill="#000"/>
<path d="M589.35,613.73 L590.1,615.25 L591.78,615.49 L590.56,616.68 L590.85,618.35 L589.35,617.56 L587.85,618.35 L588.14,616.68 L586.92,615.49 L588.6,615.25Z M594.45,613.73 L595.2,615.25 L596.88,615.49 L595.66,616.68 L595.95,618.35 L594.45,617.56 L592.95,618.35 L593.24,616.68 L592.02,615.49 L593.7,615.25Z M599.55,613.73 L600.3,615.25 L601.98,615.49 L600.76,616.68 L601.05,618.35 L599.55,617.56 L598.05,618.35 L598.34,616.68 L597.12,615.49 L598.8,615.25Z M604.65,613.73 L605.4,615.25 L607.08,615.49 L605.86,616.68 L606.15,618.35 L604.65,617.56 L603.15,618.35 L603.44,616.68 L602.22,615.49 L603.9,615.25Z" fill="#000"/>
<path d="M619.4,592.73 L620.15,594.25 L621.83,594.49 L620.61,595.68 L620.9,597.35 L619.4,596.56 L617.9,597.35 L618.19,595.68 L616.97,594.49 L618.65,594.25Z M624.5,592.73 L625.25,594.25 L626.93,594.49 L625.71,595.68 L626,597.35 L624.5,596.56 L623,597.35 L623.29,595.68 L622.07,594.49 L623.75,594.25Z M629.6,592.73 L630.35,594.25 L632.03,594.49 L630.81,595.68 L631.1,597.35 L629.6,596.56 L628.1,597.35 L628.39,595.68 L627.17,594.49 L628.85,594.25Z" fill="#000"/>
<path d="M645.25,576.93 L646,578.45 L647.68,578.69 L646.46,579.88 L646.75,581.55 L645.25,580.76 L643.75,581.55 L644.04,579.88 L642.82,578.69 L644.5,578.45Z M650.35,576.93 L651.1,578.45 L652.78,578.69 L651.56,579.88 L651.85,581.55 L650.35,580.76 L648.85,581.55 L649.14,579.88 L647.92,578.69 L649.6,578.45Z M655.45,576.93 L656.2,578.45 L657.88,578.69 L656.66,579.88 L656.95,581.55 L655.45,580.76 L653.95,581.55 L654.24,579.88 L653.02,578.69 L654.7,578.45Z M660.55,576.93 L661.3,578.45 L662.98,578.69 L661.76,579.88 L662.05,581.55 L660.55,580.76 L659.05,581.55 L659.34,579.88 L658.12,578.69 L659.8,578.45Z" fill="#000"/>
<line x1="559.6" y1="554.6" x2="580" y2="554.6" stroke="#1a1aff" stroke-width="2.3" stroke-linecap="butt"/>
<circle cx="569.8" cy="554.6" r="2.2" fill="#000"/>
<text x="591.8" y="558" font-size="9.5" text-anchor="start">WT</text>
<line x1="559.6" y1="568.9" x2="580" y2="568.9" stroke="#b01e1e" stroke-width="2.3" stroke-linecap="butt"/>
<rect x="567.8" y="566.9" width="4" height="4" fill="#b01e1e"/>
<text x="591.8" y="572.3" font-size="9.5" text-anchor="start">CCND3 KO</text>
<text transform="translate(537 639.4) rotate(-90)" font-size="9.65" text-anchor="middle">HRTV titer, log<tspan font-size="7" dy="2.2">10</tspan><tspan dy="-2.2"> (TCID</tspan><tspan font-size="7" dy="2.2">50</tspan><tspan dy="-2.2">/mL)</tspan></text>
</svg>
</body></html>
